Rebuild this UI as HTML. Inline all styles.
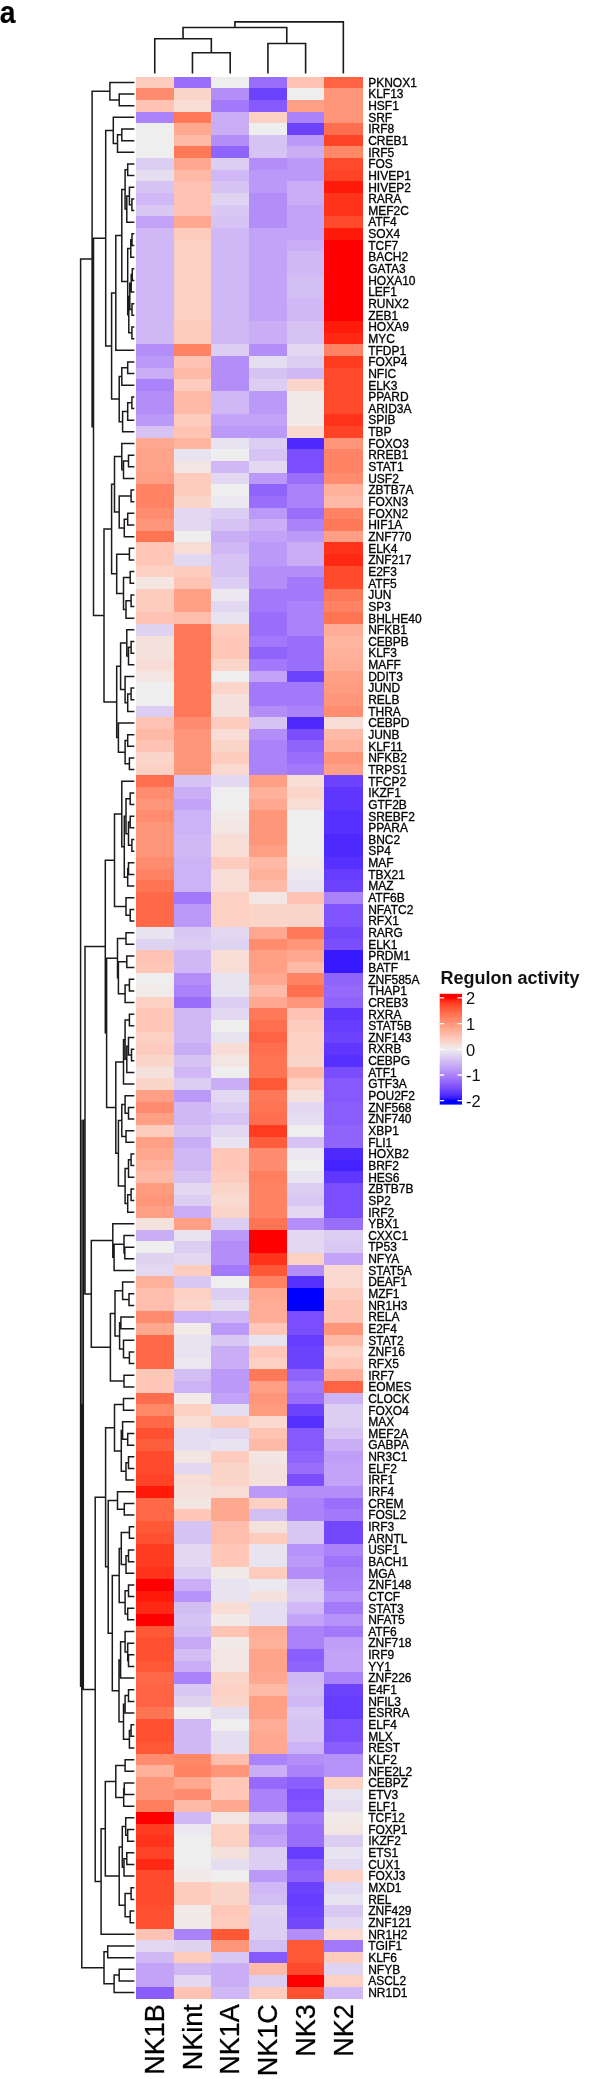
<!DOCTYPE html>
<html><head><meta charset="utf-8"><title>heatmap</title><style>html,body{margin:0;padding:0;background:#fff}body{width:591px;height:2079px;overflow:hidden;font-family:"Liberation Sans",sans-serif}</style></head><body>
<svg width="591" height="2079" viewBox="0 0 591 2079" style="display:block;filter:blur(0.45px)">
<rect width="591" height="2079" fill="#fff"/>
<g shape-rendering="crispEdges">
<rect x="135.90" y="76.60" width="38.02" height="11.95" fill="#feccbe"/>
<rect x="173.62" y="76.60" width="38.02" height="11.95" fill="#996efb"/>
<rect x="211.33" y="76.60" width="38.02" height="11.95" fill="#eeeeee"/>
<rect x="249.05" y="76.60" width="38.02" height="11.95" fill="#996efb"/>
<rect x="286.77" y="76.60" width="38.02" height="11.95" fill="#ffc3b3"/>
<rect x="324.48" y="76.60" width="38.02" height="11.95" fill="#ff6343"/>
<rect x="135.90" y="88.25" width="38.02" height="11.95" fill="#ff8c6f"/>
<rect x="173.62" y="88.25" width="38.02" height="11.95" fill="#fbd4ca"/>
<rect x="211.33" y="88.25" width="38.02" height="11.95" fill="#b38ef9"/>
<rect x="249.05" y="88.25" width="38.02" height="11.95" fill="#6d42fd"/>
<rect x="286.77" y="88.25" width="38.02" height="11.95" fill="#eeeeee"/>
<rect x="324.48" y="88.25" width="38.02" height="11.95" fill="#ff967a"/>
<rect x="135.90" y="99.89" width="38.02" height="11.95" fill="#ffc3b3"/>
<rect x="173.62" y="99.89" width="38.02" height="11.95" fill="#f7ddd6"/>
<rect x="211.33" y="99.89" width="38.02" height="11.95" fill="#a279fa"/>
<rect x="249.05" y="99.89" width="38.02" height="11.95" fill="#8559fc"/>
<rect x="286.77" y="99.89" width="38.02" height="11.95" fill="#ff9f85"/>
<rect x="324.48" y="99.89" width="38.02" height="11.95" fill="#ff967a"/>
<rect x="135.90" y="111.54" width="38.02" height="11.95" fill="#aa83fa"/>
<rect x="173.62" y="111.54" width="38.02" height="11.95" fill="#ff7959"/>
<rect x="211.33" y="111.54" width="38.02" height="11.95" fill="#c9aef6"/>
<rect x="249.05" y="111.54" width="38.02" height="11.95" fill="#fdd0c4"/>
<rect x="286.77" y="111.54" width="38.02" height="11.95" fill="#aa83fa"/>
<rect x="324.48" y="111.54" width="38.02" height="11.95" fill="#ff967a"/>
<rect x="135.90" y="123.19" width="38.02" height="11.95" fill="#eeeeee"/>
<rect x="173.62" y="123.19" width="38.02" height="11.95" fill="#ffa890"/>
<rect x="211.33" y="123.19" width="38.02" height="11.95" fill="#c9aef6"/>
<rect x="249.05" y="123.19" width="38.02" height="11.95" fill="#eeeeee"/>
<rect x="286.77" y="123.19" width="38.02" height="11.95" fill="#6d42fd"/>
<rect x="324.48" y="123.19" width="38.02" height="11.95" fill="#ff6e4e"/>
<rect x="135.90" y="134.84" width="38.02" height="11.95" fill="#eeeeee"/>
<rect x="173.62" y="134.84" width="38.02" height="11.95" fill="#ffbaa7"/>
<rect x="211.33" y="134.84" width="38.02" height="11.95" fill="#b38ef9"/>
<rect x="249.05" y="134.84" width="38.02" height="11.95" fill="#d6c3f4"/>
<rect x="286.77" y="134.84" width="38.02" height="11.95" fill="#ba99f8"/>
<rect x="324.48" y="134.84" width="38.02" height="11.95" fill="#ff4326"/>
<rect x="135.90" y="146.48" width="38.02" height="11.95" fill="#eeeeee"/>
<rect x="173.62" y="146.48" width="38.02" height="11.95" fill="#ff7959"/>
<rect x="211.33" y="146.48" width="38.02" height="11.95" fill="#8f64fc"/>
<rect x="249.05" y="146.48" width="38.02" height="11.95" fill="#d6c3f4"/>
<rect x="286.77" y="146.48" width="38.02" height="11.95" fill="#c9aef6"/>
<rect x="324.48" y="146.48" width="38.02" height="11.95" fill="#ff8869"/>
<rect x="135.90" y="158.13" width="38.02" height="11.95" fill="#dccef2"/>
<rect x="173.62" y="158.13" width="38.02" height="11.95" fill="#ffa890"/>
<rect x="211.33" y="158.13" width="38.02" height="11.95" fill="#dccef2"/>
<rect x="249.05" y="158.13" width="38.02" height="11.95" fill="#b38ef9"/>
<rect x="286.77" y="158.13" width="38.02" height="11.95" fill="#ba99f8"/>
<rect x="324.48" y="158.13" width="38.02" height="11.95" fill="#ff4b2c"/>
<rect x="135.90" y="169.78" width="38.02" height="11.95" fill="#e5def0"/>
<rect x="173.62" y="169.78" width="38.02" height="11.95" fill="#ffbaa7"/>
<rect x="211.33" y="169.78" width="38.02" height="11.95" fill="#cfb8f5"/>
<rect x="249.05" y="169.78" width="38.02" height="11.95" fill="#ba99f8"/>
<rect x="286.77" y="169.78" width="38.02" height="11.95" fill="#ba99f8"/>
<rect x="324.48" y="169.78" width="38.02" height="11.95" fill="#ff4326"/>
<rect x="135.90" y="181.43" width="38.02" height="11.95" fill="#d6c3f4"/>
<rect x="173.62" y="181.43" width="38.02" height="11.95" fill="#ffc3b3"/>
<rect x="211.33" y="181.43" width="38.02" height="11.95" fill="#d6c3f4"/>
<rect x="249.05" y="181.43" width="38.02" height="11.95" fill="#ba99f8"/>
<rect x="286.77" y="181.43" width="38.02" height="11.95" fill="#c9aef6"/>
<rect x="324.48" y="181.43" width="38.02" height="11.95" fill="#ff1a09"/>
<rect x="135.90" y="193.07" width="38.02" height="11.95" fill="#cfb8f5"/>
<rect x="173.62" y="193.07" width="38.02" height="11.95" fill="#ffc3b3"/>
<rect x="211.33" y="193.07" width="38.02" height="11.95" fill="#dfd3f2"/>
<rect x="249.05" y="193.07" width="38.02" height="11.95" fill="#b38ef9"/>
<rect x="286.77" y="193.07" width="38.02" height="11.95" fill="#c9aef6"/>
<rect x="324.48" y="193.07" width="38.02" height="11.95" fill="#ff3319"/>
<rect x="135.90" y="204.72" width="38.02" height="11.95" fill="#d9c8f3"/>
<rect x="173.62" y="204.72" width="38.02" height="11.95" fill="#ffc3b3"/>
<rect x="211.33" y="204.72" width="38.02" height="11.95" fill="#d9c8f3"/>
<rect x="249.05" y="204.72" width="38.02" height="11.95" fill="#b38ef9"/>
<rect x="286.77" y="204.72" width="38.02" height="11.95" fill="#c2a3f7"/>
<rect x="324.48" y="204.72" width="38.02" height="11.95" fill="#ff3319"/>
<rect x="135.90" y="216.37" width="38.02" height="11.95" fill="#c2a3f7"/>
<rect x="173.62" y="216.37" width="38.02" height="11.95" fill="#ffa890"/>
<rect x="211.33" y="216.37" width="38.02" height="11.95" fill="#d6c3f4"/>
<rect x="249.05" y="216.37" width="38.02" height="11.95" fill="#b38ef9"/>
<rect x="286.77" y="216.37" width="38.02" height="11.95" fill="#c2a3f7"/>
<rect x="324.48" y="216.37" width="38.02" height="11.95" fill="#ff4b2c"/>
<rect x="135.90" y="228.01" width="38.02" height="11.95" fill="#cfb8f5"/>
<rect x="173.62" y="228.01" width="38.02" height="11.95" fill="#feccbe"/>
<rect x="211.33" y="228.01" width="38.02" height="11.95" fill="#cfb8f5"/>
<rect x="249.05" y="228.01" width="38.02" height="11.95" fill="#c2a3f7"/>
<rect x="286.77" y="228.01" width="38.02" height="11.95" fill="#c2a3f7"/>
<rect x="324.48" y="228.01" width="38.02" height="11.95" fill="#ff1a09"/>
<rect x="135.90" y="239.66" width="38.02" height="11.95" fill="#cfb8f5"/>
<rect x="173.62" y="239.66" width="38.02" height="11.95" fill="#fdd0c4"/>
<rect x="211.33" y="239.66" width="38.02" height="11.95" fill="#cfb8f5"/>
<rect x="249.05" y="239.66" width="38.02" height="11.95" fill="#c2a3f7"/>
<rect x="286.77" y="239.66" width="38.02" height="11.95" fill="#c9aef6"/>
<rect x="324.48" y="239.66" width="38.02" height="11.95" fill="#ff0000"/>
<rect x="135.90" y="251.31" width="38.02" height="11.95" fill="#cfb8f5"/>
<rect x="173.62" y="251.31" width="38.02" height="11.95" fill="#fdd0c4"/>
<rect x="211.33" y="251.31" width="38.02" height="11.95" fill="#cfb8f5"/>
<rect x="249.05" y="251.31" width="38.02" height="11.95" fill="#c2a3f7"/>
<rect x="286.77" y="251.31" width="38.02" height="11.95" fill="#cfb8f5"/>
<rect x="324.48" y="251.31" width="38.02" height="11.95" fill="#ff0000"/>
<rect x="135.90" y="262.96" width="38.02" height="11.95" fill="#cfb8f5"/>
<rect x="173.62" y="262.96" width="38.02" height="11.95" fill="#fdd0c4"/>
<rect x="211.33" y="262.96" width="38.02" height="11.95" fill="#cfb8f5"/>
<rect x="249.05" y="262.96" width="38.02" height="11.95" fill="#c2a3f7"/>
<rect x="286.77" y="262.96" width="38.02" height="11.95" fill="#cfb8f5"/>
<rect x="324.48" y="262.96" width="38.02" height="11.95" fill="#ff0000"/>
<rect x="135.90" y="274.60" width="38.02" height="11.95" fill="#cfb8f5"/>
<rect x="173.62" y="274.60" width="38.02" height="11.95" fill="#fdd0c4"/>
<rect x="211.33" y="274.60" width="38.02" height="11.95" fill="#cfb8f5"/>
<rect x="249.05" y="274.60" width="38.02" height="11.95" fill="#c2a3f7"/>
<rect x="286.77" y="274.60" width="38.02" height="11.95" fill="#d3bef4"/>
<rect x="324.48" y="274.60" width="38.02" height="11.95" fill="#ff0000"/>
<rect x="135.90" y="286.25" width="38.02" height="11.95" fill="#cfb8f5"/>
<rect x="173.62" y="286.25" width="38.02" height="11.95" fill="#fdd0c4"/>
<rect x="211.33" y="286.25" width="38.02" height="11.95" fill="#cfb8f5"/>
<rect x="249.05" y="286.25" width="38.02" height="11.95" fill="#c2a3f7"/>
<rect x="286.77" y="286.25" width="38.02" height="11.95" fill="#d3bef4"/>
<rect x="324.48" y="286.25" width="38.02" height="11.95" fill="#ff0000"/>
<rect x="135.90" y="297.90" width="38.02" height="11.95" fill="#cfb8f5"/>
<rect x="173.62" y="297.90" width="38.02" height="11.95" fill="#fdd0c4"/>
<rect x="211.33" y="297.90" width="38.02" height="11.95" fill="#cfb8f5"/>
<rect x="249.05" y="297.90" width="38.02" height="11.95" fill="#c2a3f7"/>
<rect x="286.77" y="297.90" width="38.02" height="11.95" fill="#cfb8f5"/>
<rect x="324.48" y="297.90" width="38.02" height="11.95" fill="#ff0000"/>
<rect x="135.90" y="309.55" width="38.02" height="11.95" fill="#cfb8f5"/>
<rect x="173.62" y="309.55" width="38.02" height="11.95" fill="#fdd0c4"/>
<rect x="211.33" y="309.55" width="38.02" height="11.95" fill="#cfb8f5"/>
<rect x="249.05" y="309.55" width="38.02" height="11.95" fill="#c2a3f7"/>
<rect x="286.77" y="309.55" width="38.02" height="11.95" fill="#cfb8f5"/>
<rect x="324.48" y="309.55" width="38.02" height="11.95" fill="#ff0000"/>
<rect x="135.90" y="321.19" width="38.02" height="11.95" fill="#cfb8f5"/>
<rect x="173.62" y="321.19" width="38.02" height="11.95" fill="#feccbe"/>
<rect x="211.33" y="321.19" width="38.02" height="11.95" fill="#cfb8f5"/>
<rect x="249.05" y="321.19" width="38.02" height="11.95" fill="#c9aef6"/>
<rect x="286.77" y="321.19" width="38.02" height="11.95" fill="#d6c3f4"/>
<rect x="324.48" y="321.19" width="38.02" height="11.95" fill="#ff1a09"/>
<rect x="135.90" y="332.84" width="38.02" height="11.95" fill="#cfb8f5"/>
<rect x="173.62" y="332.84" width="38.02" height="11.95" fill="#feccbe"/>
<rect x="211.33" y="332.84" width="38.02" height="11.95" fill="#cfb8f5"/>
<rect x="249.05" y="332.84" width="38.02" height="11.95" fill="#c9aef6"/>
<rect x="286.77" y="332.84" width="38.02" height="11.95" fill="#d6c3f4"/>
<rect x="324.48" y="332.84" width="38.02" height="11.95" fill="#ff2812"/>
<rect x="135.90" y="344.49" width="38.02" height="11.95" fill="#b38ef9"/>
<rect x="173.62" y="344.49" width="38.02" height="11.95" fill="#ff8364"/>
<rect x="211.33" y="344.49" width="38.02" height="11.95" fill="#dccef2"/>
<rect x="249.05" y="344.49" width="38.02" height="11.95" fill="#b38ef9"/>
<rect x="286.77" y="344.49" width="38.02" height="11.95" fill="#e2d8f1"/>
<rect x="324.48" y="344.49" width="38.02" height="11.95" fill="#ff8364"/>
<rect x="135.90" y="356.13" width="38.02" height="11.95" fill="#ba99f8"/>
<rect x="173.62" y="356.13" width="38.02" height="11.95" fill="#ffc3b3"/>
<rect x="211.33" y="356.13" width="38.02" height="11.95" fill="#b38ef9"/>
<rect x="249.05" y="356.13" width="38.02" height="11.95" fill="#e5def0"/>
<rect x="286.77" y="356.13" width="38.02" height="11.95" fill="#dccef2"/>
<rect x="324.48" y="356.13" width="38.02" height="11.95" fill="#ff3c20"/>
<rect x="135.90" y="367.78" width="38.02" height="11.95" fill="#c9aef6"/>
<rect x="173.62" y="367.78" width="38.02" height="11.95" fill="#ffbaa7"/>
<rect x="211.33" y="367.78" width="38.02" height="11.95" fill="#b38ef9"/>
<rect x="249.05" y="367.78" width="38.02" height="11.95" fill="#d6c3f4"/>
<rect x="286.77" y="367.78" width="38.02" height="11.95" fill="#cfb8f5"/>
<rect x="324.48" y="367.78" width="38.02" height="11.95" fill="#ff4b2c"/>
<rect x="135.90" y="379.43" width="38.02" height="11.95" fill="#aa83fa"/>
<rect x="173.62" y="379.43" width="38.02" height="11.95" fill="#feccbe"/>
<rect x="211.33" y="379.43" width="38.02" height="11.95" fill="#b38ef9"/>
<rect x="249.05" y="379.43" width="38.02" height="11.95" fill="#dccef2"/>
<rect x="286.77" y="379.43" width="38.02" height="11.95" fill="#fbd4ca"/>
<rect x="324.48" y="379.43" width="38.02" height="11.95" fill="#ff4b2c"/>
<rect x="135.90" y="391.08" width="38.02" height="11.95" fill="#b38ef9"/>
<rect x="173.62" y="391.08" width="38.02" height="11.95" fill="#ffbaa7"/>
<rect x="211.33" y="391.08" width="38.02" height="11.95" fill="#cfb8f5"/>
<rect x="249.05" y="391.08" width="38.02" height="11.95" fill="#ba99f8"/>
<rect x="286.77" y="391.08" width="38.02" height="11.95" fill="#f1eae8"/>
<rect x="324.48" y="391.08" width="38.02" height="11.95" fill="#ff4b2c"/>
<rect x="135.90" y="402.72" width="38.02" height="11.95" fill="#b38ef9"/>
<rect x="173.62" y="402.72" width="38.02" height="11.95" fill="#ffbaa7"/>
<rect x="211.33" y="402.72" width="38.02" height="11.95" fill="#cfb8f5"/>
<rect x="249.05" y="402.72" width="38.02" height="11.95" fill="#ba99f8"/>
<rect x="286.77" y="402.72" width="38.02" height="11.95" fill="#f1eae8"/>
<rect x="324.48" y="402.72" width="38.02" height="11.95" fill="#ff4b2c"/>
<rect x="135.90" y="414.37" width="38.02" height="11.95" fill="#ba99f8"/>
<rect x="173.62" y="414.37" width="38.02" height="11.95" fill="#feccbe"/>
<rect x="211.33" y="414.37" width="38.02" height="11.95" fill="#c2a3f7"/>
<rect x="249.05" y="414.37" width="38.02" height="11.95" fill="#c2a3f7"/>
<rect x="286.77" y="414.37" width="38.02" height="11.95" fill="#f1eae8"/>
<rect x="324.48" y="414.37" width="38.02" height="11.95" fill="#ff3319"/>
<rect x="135.90" y="426.02" width="38.02" height="11.95" fill="#d6c3f4"/>
<rect x="173.62" y="426.02" width="38.02" height="11.95" fill="#ffc3b3"/>
<rect x="211.33" y="426.02" width="38.02" height="11.95" fill="#ba99f8"/>
<rect x="249.05" y="426.02" width="38.02" height="11.95" fill="#ba99f8"/>
<rect x="286.77" y="426.02" width="38.02" height="11.95" fill="#f9d9d0"/>
<rect x="324.48" y="426.02" width="38.02" height="11.95" fill="#ff4326"/>
<rect x="135.90" y="437.67" width="38.02" height="11.95" fill="#ffa890"/>
<rect x="173.62" y="437.67" width="38.02" height="11.95" fill="#ffb6a1"/>
<rect x="211.33" y="437.67" width="38.02" height="11.95" fill="#e8e3f0"/>
<rect x="249.05" y="437.67" width="38.02" height="11.95" fill="#dccef2"/>
<rect x="286.77" y="437.67" width="38.02" height="11.95" fill="#4d29fe"/>
<rect x="324.48" y="437.67" width="38.02" height="11.95" fill="#ff967a"/>
<rect x="135.90" y="449.31" width="38.02" height="11.95" fill="#ffa48b"/>
<rect x="173.62" y="449.31" width="38.02" height="11.95" fill="#e8e3f0"/>
<rect x="211.33" y="449.31" width="38.02" height="11.95" fill="#eeeeee"/>
<rect x="249.05" y="449.31" width="38.02" height="11.95" fill="#d6c3f4"/>
<rect x="286.77" y="449.31" width="38.02" height="11.95" fill="#7a4efd"/>
<rect x="324.48" y="449.31" width="38.02" height="11.95" fill="#ff8364"/>
<rect x="135.90" y="460.96" width="38.02" height="11.95" fill="#ffa48b"/>
<rect x="173.62" y="460.96" width="38.02" height="11.95" fill="#f3e5e2"/>
<rect x="211.33" y="460.96" width="38.02" height="11.95" fill="#cfb8f5"/>
<rect x="249.05" y="460.96" width="38.02" height="11.95" fill="#e2d8f1"/>
<rect x="286.77" y="460.96" width="38.02" height="11.95" fill="#7a4efd"/>
<rect x="324.48" y="460.96" width="38.02" height="11.95" fill="#ff8364"/>
<rect x="135.90" y="472.61" width="38.02" height="11.95" fill="#ff9f85"/>
<rect x="173.62" y="472.61" width="38.02" height="11.95" fill="#feccbe"/>
<rect x="211.33" y="472.61" width="38.02" height="11.95" fill="#e2d8f1"/>
<rect x="249.05" y="472.61" width="38.02" height="11.95" fill="#ba99f8"/>
<rect x="286.77" y="472.61" width="38.02" height="11.95" fill="#996efb"/>
<rect x="324.48" y="472.61" width="38.02" height="11.95" fill="#ff8c6f"/>
<rect x="135.90" y="484.25" width="38.02" height="11.95" fill="#ff8364"/>
<rect x="173.62" y="484.25" width="38.02" height="11.95" fill="#feccbe"/>
<rect x="211.33" y="484.25" width="38.02" height="11.95" fill="#eeeeee"/>
<rect x="249.05" y="484.25" width="38.02" height="11.95" fill="#8f64fc"/>
<rect x="286.77" y="484.25" width="38.02" height="11.95" fill="#aa83fa"/>
<rect x="324.48" y="484.25" width="38.02" height="11.95" fill="#ffb19c"/>
<rect x="135.90" y="495.90" width="38.02" height="11.95" fill="#ff8364"/>
<rect x="173.62" y="495.90" width="38.02" height="11.95" fill="#fbd4ca"/>
<rect x="211.33" y="495.90" width="38.02" height="11.95" fill="#ebe9ef"/>
<rect x="249.05" y="495.90" width="38.02" height="11.95" fill="#996efb"/>
<rect x="286.77" y="495.90" width="38.02" height="11.95" fill="#aa83fa"/>
<rect x="324.48" y="495.90" width="38.02" height="11.95" fill="#ffbaa7"/>
<rect x="135.90" y="507.55" width="38.02" height="11.95" fill="#ff8c6f"/>
<rect x="173.62" y="507.55" width="38.02" height="11.95" fill="#e2d8f1"/>
<rect x="211.33" y="507.55" width="38.02" height="11.95" fill="#dccef2"/>
<rect x="249.05" y="507.55" width="38.02" height="11.95" fill="#ba99f8"/>
<rect x="286.77" y="507.55" width="38.02" height="11.95" fill="#996efb"/>
<rect x="324.48" y="507.55" width="38.02" height="11.95" fill="#ff8364"/>
<rect x="135.90" y="519.20" width="38.02" height="11.95" fill="#ff967a"/>
<rect x="173.62" y="519.20" width="38.02" height="11.95" fill="#e2d8f1"/>
<rect x="211.33" y="519.20" width="38.02" height="11.95" fill="#d6c3f4"/>
<rect x="249.05" y="519.20" width="38.02" height="11.95" fill="#c9aef6"/>
<rect x="286.77" y="519.20" width="38.02" height="11.95" fill="#aa83fa"/>
<rect x="324.48" y="519.20" width="38.02" height="11.95" fill="#ff7959"/>
<rect x="135.90" y="530.84" width="38.02" height="11.95" fill="#ff7453"/>
<rect x="173.62" y="530.84" width="38.02" height="11.95" fill="#eeeeee"/>
<rect x="211.33" y="530.84" width="38.02" height="11.95" fill="#c9aef6"/>
<rect x="249.05" y="530.84" width="38.02" height="11.95" fill="#c2a3f7"/>
<rect x="286.77" y="530.84" width="38.02" height="11.95" fill="#ba99f8"/>
<rect x="324.48" y="530.84" width="38.02" height="11.95" fill="#ff9f85"/>
<rect x="135.90" y="542.49" width="38.02" height="11.95" fill="#ffc7b8"/>
<rect x="173.62" y="542.49" width="38.02" height="11.95" fill="#f7ddd6"/>
<rect x="211.33" y="542.49" width="38.02" height="11.95" fill="#cfb8f5"/>
<rect x="249.05" y="542.49" width="38.02" height="11.95" fill="#ba99f8"/>
<rect x="286.77" y="542.49" width="38.02" height="11.95" fill="#c9aef6"/>
<rect x="324.48" y="542.49" width="38.02" height="11.95" fill="#ff3319"/>
<rect x="135.90" y="554.14" width="38.02" height="11.95" fill="#ffc7b8"/>
<rect x="173.62" y="554.14" width="38.02" height="11.95" fill="#e2d8f1"/>
<rect x="211.33" y="554.14" width="38.02" height="11.95" fill="#d6c3f4"/>
<rect x="249.05" y="554.14" width="38.02" height="11.95" fill="#ba99f8"/>
<rect x="286.77" y="554.14" width="38.02" height="11.95" fill="#c9aef6"/>
<rect x="324.48" y="554.14" width="38.02" height="11.95" fill="#ff2812"/>
<rect x="135.90" y="565.79" width="38.02" height="11.95" fill="#fdd0c4"/>
<rect x="173.62" y="565.79" width="38.02" height="11.95" fill="#feccbe"/>
<rect x="211.33" y="565.79" width="38.02" height="11.95" fill="#d6c3f4"/>
<rect x="249.05" y="565.79" width="38.02" height="11.95" fill="#b38ef9"/>
<rect x="286.77" y="565.79" width="38.02" height="11.95" fill="#b38ef9"/>
<rect x="324.48" y="565.79" width="38.02" height="11.95" fill="#ff4b2c"/>
<rect x="135.90" y="577.43" width="38.02" height="11.95" fill="#f3e5e2"/>
<rect x="173.62" y="577.43" width="38.02" height="11.95" fill="#ffc3b3"/>
<rect x="211.33" y="577.43" width="38.02" height="11.95" fill="#dccef2"/>
<rect x="249.05" y="577.43" width="38.02" height="11.95" fill="#b38ef9"/>
<rect x="286.77" y="577.43" width="38.02" height="11.95" fill="#a279fa"/>
<rect x="324.48" y="577.43" width="38.02" height="11.95" fill="#ff4b2c"/>
<rect x="135.90" y="589.08" width="38.02" height="11.95" fill="#feccbe"/>
<rect x="173.62" y="589.08" width="38.02" height="11.95" fill="#ff9f85"/>
<rect x="211.33" y="589.08" width="38.02" height="11.95" fill="#ebe9ef"/>
<rect x="249.05" y="589.08" width="38.02" height="11.95" fill="#a279fa"/>
<rect x="286.77" y="589.08" width="38.02" height="11.95" fill="#a279fa"/>
<rect x="324.48" y="589.08" width="38.02" height="11.95" fill="#ff7959"/>
<rect x="135.90" y="600.73" width="38.02" height="11.95" fill="#feccbe"/>
<rect x="173.62" y="600.73" width="38.02" height="11.95" fill="#ff9f85"/>
<rect x="211.33" y="600.73" width="38.02" height="11.95" fill="#e2d8f1"/>
<rect x="249.05" y="600.73" width="38.02" height="11.95" fill="#a279fa"/>
<rect x="286.77" y="600.73" width="38.02" height="11.95" fill="#aa83fa"/>
<rect x="324.48" y="600.73" width="38.02" height="11.95" fill="#ff8364"/>
<rect x="135.90" y="612.37" width="38.02" height="11.95" fill="#ffc3b3"/>
<rect x="173.62" y="612.37" width="38.02" height="11.95" fill="#ffbead"/>
<rect x="211.33" y="612.37" width="38.02" height="11.95" fill="#e8e3f0"/>
<rect x="249.05" y="612.37" width="38.02" height="11.95" fill="#996efb"/>
<rect x="286.77" y="612.37" width="38.02" height="11.95" fill="#aa83fa"/>
<rect x="324.48" y="612.37" width="38.02" height="11.95" fill="#ff7453"/>
<rect x="135.90" y="624.02" width="38.02" height="11.95" fill="#dfd3f2"/>
<rect x="173.62" y="624.02" width="38.02" height="11.95" fill="#ff7959"/>
<rect x="211.33" y="624.02" width="38.02" height="11.95" fill="#feccbe"/>
<rect x="249.05" y="624.02" width="38.02" height="11.95" fill="#996efb"/>
<rect x="286.77" y="624.02" width="38.02" height="11.95" fill="#aa83fa"/>
<rect x="324.48" y="624.02" width="38.02" height="11.95" fill="#ffad96"/>
<rect x="135.90" y="635.67" width="38.02" height="11.95" fill="#f5e1dc"/>
<rect x="173.62" y="635.67" width="38.02" height="11.95" fill="#ff7959"/>
<rect x="211.33" y="635.67" width="38.02" height="11.95" fill="#ffc7b8"/>
<rect x="249.05" y="635.67" width="38.02" height="11.95" fill="#a279fa"/>
<rect x="286.77" y="635.67" width="38.02" height="11.95" fill="#996efb"/>
<rect x="324.48" y="635.67" width="38.02" height="11.95" fill="#ffb6a1"/>
<rect x="135.90" y="647.32" width="38.02" height="11.95" fill="#f5e1dc"/>
<rect x="173.62" y="647.32" width="38.02" height="11.95" fill="#ff7959"/>
<rect x="211.33" y="647.32" width="38.02" height="11.95" fill="#ffc7b8"/>
<rect x="249.05" y="647.32" width="38.02" height="11.95" fill="#8f64fc"/>
<rect x="286.77" y="647.32" width="38.02" height="11.95" fill="#996efb"/>
<rect x="324.48" y="647.32" width="38.02" height="11.95" fill="#ffb19c"/>
<rect x="135.90" y="658.96" width="38.02" height="11.95" fill="#f7ddd6"/>
<rect x="173.62" y="658.96" width="38.02" height="11.95" fill="#ff7959"/>
<rect x="211.33" y="658.96" width="38.02" height="11.95" fill="#fbd4ca"/>
<rect x="249.05" y="658.96" width="38.02" height="11.95" fill="#a279fa"/>
<rect x="286.77" y="658.96" width="38.02" height="11.95" fill="#996efb"/>
<rect x="324.48" y="658.96" width="38.02" height="11.95" fill="#ffad96"/>
<rect x="135.90" y="670.61" width="38.02" height="11.95" fill="#f3e5e2"/>
<rect x="173.62" y="670.61" width="38.02" height="11.95" fill="#ff7959"/>
<rect x="211.33" y="670.61" width="38.02" height="11.95" fill="#eeeeee"/>
<rect x="249.05" y="670.61" width="38.02" height="11.95" fill="#c2a3f7"/>
<rect x="286.77" y="670.61" width="38.02" height="11.95" fill="#6d42fd"/>
<rect x="324.48" y="670.61" width="38.02" height="11.95" fill="#ff9f85"/>
<rect x="135.90" y="682.26" width="38.02" height="11.95" fill="#eeeeee"/>
<rect x="173.62" y="682.26" width="38.02" height="11.95" fill="#ff7959"/>
<rect x="211.33" y="682.26" width="38.02" height="11.95" fill="#fbd4ca"/>
<rect x="249.05" y="682.26" width="38.02" height="11.95" fill="#a279fa"/>
<rect x="286.77" y="682.26" width="38.02" height="11.95" fill="#a279fa"/>
<rect x="324.48" y="682.26" width="38.02" height="11.95" fill="#ff9b7f"/>
<rect x="135.90" y="693.91" width="38.02" height="11.95" fill="#eeeeee"/>
<rect x="173.62" y="693.91" width="38.02" height="11.95" fill="#ff7959"/>
<rect x="211.33" y="693.91" width="38.02" height="11.95" fill="#f5e1dc"/>
<rect x="249.05" y="693.91" width="38.02" height="11.95" fill="#a279fa"/>
<rect x="286.77" y="693.91" width="38.02" height="11.95" fill="#a279fa"/>
<rect x="324.48" y="693.91" width="38.02" height="11.95" fill="#ff967a"/>
<rect x="135.90" y="705.55" width="38.02" height="11.95" fill="#dccef2"/>
<rect x="173.62" y="705.55" width="38.02" height="11.95" fill="#ff7959"/>
<rect x="211.33" y="705.55" width="38.02" height="11.95" fill="#f5e1dc"/>
<rect x="249.05" y="705.55" width="38.02" height="11.95" fill="#b38ef9"/>
<rect x="286.77" y="705.55" width="38.02" height="11.95" fill="#aa83fa"/>
<rect x="324.48" y="705.55" width="38.02" height="11.95" fill="#ff8c6f"/>
<rect x="135.90" y="717.20" width="38.02" height="11.95" fill="#ffc3b3"/>
<rect x="173.62" y="717.20" width="38.02" height="11.95" fill="#ff8c6f"/>
<rect x="211.33" y="717.20" width="38.02" height="11.95" fill="#feccbe"/>
<rect x="249.05" y="717.20" width="38.02" height="11.95" fill="#d6c3f4"/>
<rect x="286.77" y="717.20" width="38.02" height="11.95" fill="#4d29fe"/>
<rect x="324.48" y="717.20" width="38.02" height="11.95" fill="#f7ddd6"/>
<rect x="135.90" y="728.85" width="38.02" height="11.95" fill="#ffbaa7"/>
<rect x="173.62" y="728.85" width="38.02" height="11.95" fill="#ff967a"/>
<rect x="211.33" y="728.85" width="38.02" height="11.95" fill="#f7ddd6"/>
<rect x="249.05" y="728.85" width="38.02" height="11.95" fill="#b38ef9"/>
<rect x="286.77" y="728.85" width="38.02" height="11.95" fill="#7a4efd"/>
<rect x="324.48" y="728.85" width="38.02" height="11.95" fill="#ffbaa7"/>
<rect x="135.90" y="740.49" width="38.02" height="11.95" fill="#ffc3b3"/>
<rect x="173.62" y="740.49" width="38.02" height="11.95" fill="#ff967a"/>
<rect x="211.33" y="740.49" width="38.02" height="11.95" fill="#fbd4ca"/>
<rect x="249.05" y="740.49" width="38.02" height="11.95" fill="#aa83fa"/>
<rect x="286.77" y="740.49" width="38.02" height="11.95" fill="#8f64fc"/>
<rect x="324.48" y="740.49" width="38.02" height="11.95" fill="#ffb19c"/>
<rect x="135.90" y="752.14" width="38.02" height="11.95" fill="#fbd4ca"/>
<rect x="173.62" y="752.14" width="38.02" height="11.95" fill="#ff967a"/>
<rect x="211.33" y="752.14" width="38.02" height="11.95" fill="#feccbe"/>
<rect x="249.05" y="752.14" width="38.02" height="11.95" fill="#aa83fa"/>
<rect x="286.77" y="752.14" width="38.02" height="11.95" fill="#996efb"/>
<rect x="324.48" y="752.14" width="38.02" height="11.95" fill="#ff967a"/>
<rect x="135.90" y="763.79" width="38.02" height="11.95" fill="#fdd0c4"/>
<rect x="173.62" y="763.79" width="38.02" height="11.95" fill="#ff967a"/>
<rect x="211.33" y="763.79" width="38.02" height="11.95" fill="#f9d9d0"/>
<rect x="249.05" y="763.79" width="38.02" height="11.95" fill="#aa83fa"/>
<rect x="286.77" y="763.79" width="38.02" height="11.95" fill="#a279fa"/>
<rect x="324.48" y="763.79" width="38.02" height="11.95" fill="#ff9f85"/>
<rect x="135.90" y="775.44" width="38.02" height="11.95" fill="#ff6e4e"/>
<rect x="173.62" y="775.44" width="38.02" height="11.95" fill="#d6c3f4"/>
<rect x="211.33" y="775.44" width="38.02" height="11.95" fill="#e2d8f1"/>
<rect x="249.05" y="775.44" width="38.02" height="11.95" fill="#ff9f85"/>
<rect x="286.77" y="775.44" width="38.02" height="11.95" fill="#f7ddd6"/>
<rect x="324.48" y="775.44" width="38.02" height="11.95" fill="#6d42fd"/>
<rect x="135.90" y="787.08" width="38.02" height="11.95" fill="#ff8c6f"/>
<rect x="173.62" y="787.08" width="38.02" height="11.95" fill="#c9aef6"/>
<rect x="211.33" y="787.08" width="38.02" height="11.95" fill="#eeeeee"/>
<rect x="249.05" y="787.08" width="38.02" height="11.95" fill="#ffb19c"/>
<rect x="286.77" y="787.08" width="38.02" height="11.95" fill="#fbd4ca"/>
<rect x="324.48" y="787.08" width="38.02" height="11.95" fill="#5f36fe"/>
<rect x="135.90" y="798.73" width="38.02" height="11.95" fill="#ff967a"/>
<rect x="173.62" y="798.73" width="38.02" height="11.95" fill="#c2a3f7"/>
<rect x="211.33" y="798.73" width="38.02" height="11.95" fill="#eeeeee"/>
<rect x="249.05" y="798.73" width="38.02" height="11.95" fill="#ffa890"/>
<rect x="286.77" y="798.73" width="38.02" height="11.95" fill="#f7ddd6"/>
<rect x="324.48" y="798.73" width="38.02" height="11.95" fill="#5f36fe"/>
<rect x="135.90" y="810.38" width="38.02" height="11.95" fill="#ff8c6f"/>
<rect x="173.62" y="810.38" width="38.02" height="11.95" fill="#ccb3f5"/>
<rect x="211.33" y="810.38" width="38.02" height="11.95" fill="#f1eae8"/>
<rect x="249.05" y="810.38" width="38.02" height="11.95" fill="#ff967a"/>
<rect x="286.77" y="810.38" width="38.02" height="11.95" fill="#eeeeee"/>
<rect x="324.48" y="810.38" width="38.02" height="11.95" fill="#5630fe"/>
<rect x="135.90" y="822.03" width="38.02" height="11.95" fill="#ff967a"/>
<rect x="173.62" y="822.03" width="38.02" height="11.95" fill="#ccb3f5"/>
<rect x="211.33" y="822.03" width="38.02" height="11.95" fill="#f3e5e2"/>
<rect x="249.05" y="822.03" width="38.02" height="11.95" fill="#ff967a"/>
<rect x="286.77" y="822.03" width="38.02" height="11.95" fill="#eeeeee"/>
<rect x="324.48" y="822.03" width="38.02" height="11.95" fill="#5630fe"/>
<rect x="135.90" y="833.67" width="38.02" height="11.95" fill="#ff967a"/>
<rect x="173.62" y="833.67" width="38.02" height="11.95" fill="#cfb8f5"/>
<rect x="211.33" y="833.67" width="38.02" height="11.95" fill="#f7ddd6"/>
<rect x="249.05" y="833.67" width="38.02" height="11.95" fill="#ff967a"/>
<rect x="286.77" y="833.67" width="38.02" height="11.95" fill="#eeeeee"/>
<rect x="324.48" y="833.67" width="38.02" height="11.95" fill="#4d29fe"/>
<rect x="135.90" y="845.32" width="38.02" height="11.95" fill="#ff967a"/>
<rect x="173.62" y="845.32" width="38.02" height="11.95" fill="#cfb8f5"/>
<rect x="211.33" y="845.32" width="38.02" height="11.95" fill="#f7ddd6"/>
<rect x="249.05" y="845.32" width="38.02" height="11.95" fill="#ff9f85"/>
<rect x="286.77" y="845.32" width="38.02" height="11.95" fill="#eeeeee"/>
<rect x="324.48" y="845.32" width="38.02" height="11.95" fill="#4d29fe"/>
<rect x="135.90" y="856.97" width="38.02" height="11.95" fill="#ff8c6f"/>
<rect x="173.62" y="856.97" width="38.02" height="11.95" fill="#ccb3f5"/>
<rect x="211.33" y="856.97" width="38.02" height="11.95" fill="#feccbe"/>
<rect x="249.05" y="856.97" width="38.02" height="11.95" fill="#ffbaa7"/>
<rect x="286.77" y="856.97" width="38.02" height="11.95" fill="#f1eae8"/>
<rect x="324.48" y="856.97" width="38.02" height="11.95" fill="#5630fe"/>
<rect x="135.90" y="868.61" width="38.02" height="11.95" fill="#ff8364"/>
<rect x="173.62" y="868.61" width="38.02" height="11.95" fill="#ccb3f5"/>
<rect x="211.33" y="868.61" width="38.02" height="11.95" fill="#f7ddd6"/>
<rect x="249.05" y="868.61" width="38.02" height="11.95" fill="#ffb19c"/>
<rect x="286.77" y="868.61" width="38.02" height="11.95" fill="#ebe9ef"/>
<rect x="324.48" y="868.61" width="38.02" height="11.95" fill="#663cfe"/>
<rect x="135.90" y="880.26" width="38.02" height="11.95" fill="#ff7453"/>
<rect x="173.62" y="880.26" width="38.02" height="11.95" fill="#ccb3f5"/>
<rect x="211.33" y="880.26" width="38.02" height="11.95" fill="#f7ddd6"/>
<rect x="249.05" y="880.26" width="38.02" height="11.95" fill="#ffbaa7"/>
<rect x="286.77" y="880.26" width="38.02" height="11.95" fill="#e8e3f0"/>
<rect x="324.48" y="880.26" width="38.02" height="11.95" fill="#6d42fd"/>
<rect x="135.90" y="891.91" width="38.02" height="11.95" fill="#ff6948"/>
<rect x="173.62" y="891.91" width="38.02" height="11.95" fill="#a279fa"/>
<rect x="211.33" y="891.91" width="38.02" height="11.95" fill="#fdd0c4"/>
<rect x="249.05" y="891.91" width="38.02" height="11.95" fill="#f3e5e2"/>
<rect x="286.77" y="891.91" width="38.02" height="11.95" fill="#ffc3b3"/>
<rect x="324.48" y="891.91" width="38.02" height="11.95" fill="#aa83fa"/>
<rect x="135.90" y="903.56" width="38.02" height="11.95" fill="#ff6948"/>
<rect x="173.62" y="903.56" width="38.02" height="11.95" fill="#ba99f8"/>
<rect x="211.33" y="903.56" width="38.02" height="11.95" fill="#fdd0c4"/>
<rect x="249.05" y="903.56" width="38.02" height="11.95" fill="#fbd4ca"/>
<rect x="286.77" y="903.56" width="38.02" height="11.95" fill="#fbd4ca"/>
<rect x="324.48" y="903.56" width="38.02" height="11.95" fill="#7f53fd"/>
<rect x="135.90" y="915.20" width="38.02" height="11.95" fill="#ff6948"/>
<rect x="173.62" y="915.20" width="38.02" height="11.95" fill="#ba99f8"/>
<rect x="211.33" y="915.20" width="38.02" height="11.95" fill="#fdd0c4"/>
<rect x="249.05" y="915.20" width="38.02" height="11.95" fill="#fbd4ca"/>
<rect x="286.77" y="915.20" width="38.02" height="11.95" fill="#fbd4ca"/>
<rect x="324.48" y="915.20" width="38.02" height="11.95" fill="#7f53fd"/>
<rect x="135.90" y="926.85" width="38.02" height="11.95" fill="#e8e3f0"/>
<rect x="173.62" y="926.85" width="38.02" height="11.95" fill="#d9c8f3"/>
<rect x="211.33" y="926.85" width="38.02" height="11.95" fill="#e2d8f1"/>
<rect x="249.05" y="926.85" width="38.02" height="11.95" fill="#ffa890"/>
<rect x="286.77" y="926.85" width="38.02" height="11.95" fill="#ff7959"/>
<rect x="324.48" y="926.85" width="38.02" height="11.95" fill="#7348fd"/>
<rect x="135.90" y="938.50" width="38.02" height="11.95" fill="#dfd3f2"/>
<rect x="173.62" y="938.50" width="38.02" height="11.95" fill="#dccef2"/>
<rect x="211.33" y="938.50" width="38.02" height="11.95" fill="#dfd3f2"/>
<rect x="249.05" y="938.50" width="38.02" height="11.95" fill="#ff8c6f"/>
<rect x="286.77" y="938.50" width="38.02" height="11.95" fill="#ff967a"/>
<rect x="324.48" y="938.50" width="38.02" height="11.95" fill="#7a4efd"/>
<rect x="135.90" y="950.15" width="38.02" height="11.95" fill="#ffc3b3"/>
<rect x="173.62" y="950.15" width="38.02" height="11.95" fill="#cfb8f5"/>
<rect x="211.33" y="950.15" width="38.02" height="11.95" fill="#f7ddd6"/>
<rect x="249.05" y="950.15" width="38.02" height="11.95" fill="#ff9f85"/>
<rect x="286.77" y="950.15" width="38.02" height="11.95" fill="#ffa890"/>
<rect x="324.48" y="950.15" width="38.02" height="11.95" fill="#3619ff"/>
<rect x="135.90" y="961.79" width="38.02" height="11.95" fill="#ffc7b8"/>
<rect x="173.62" y="961.79" width="38.02" height="11.95" fill="#cfb8f5"/>
<rect x="211.33" y="961.79" width="38.02" height="11.95" fill="#f7ddd6"/>
<rect x="249.05" y="961.79" width="38.02" height="11.95" fill="#ff9f85"/>
<rect x="286.77" y="961.79" width="38.02" height="11.95" fill="#ffbaa7"/>
<rect x="324.48" y="961.79" width="38.02" height="11.95" fill="#3619ff"/>
<rect x="135.90" y="973.44" width="38.02" height="11.95" fill="#eeeeee"/>
<rect x="173.62" y="973.44" width="38.02" height="11.95" fill="#b38ef9"/>
<rect x="211.33" y="973.44" width="38.02" height="11.95" fill="#e8e3f0"/>
<rect x="249.05" y="973.44" width="38.02" height="11.95" fill="#ffa890"/>
<rect x="286.77" y="973.44" width="38.02" height="11.95" fill="#ff8364"/>
<rect x="324.48" y="973.44" width="38.02" height="11.95" fill="#8f64fc"/>
<rect x="135.90" y="985.09" width="38.02" height="11.95" fill="#f1eae8"/>
<rect x="173.62" y="985.09" width="38.02" height="11.95" fill="#aa83fa"/>
<rect x="211.33" y="985.09" width="38.02" height="11.95" fill="#e8e3f0"/>
<rect x="249.05" y="985.09" width="38.02" height="11.95" fill="#ffbaa7"/>
<rect x="286.77" y="985.09" width="38.02" height="11.95" fill="#ff6e4e"/>
<rect x="324.48" y="985.09" width="38.02" height="11.95" fill="#9469fb"/>
<rect x="135.90" y="996.73" width="38.02" height="11.95" fill="#fdd0c4"/>
<rect x="173.62" y="996.73" width="38.02" height="11.95" fill="#996efb"/>
<rect x="211.33" y="996.73" width="38.02" height="11.95" fill="#dccef2"/>
<rect x="249.05" y="996.73" width="38.02" height="11.95" fill="#ffa890"/>
<rect x="286.77" y="996.73" width="38.02" height="11.95" fill="#ff967a"/>
<rect x="324.48" y="996.73" width="38.02" height="11.95" fill="#8f64fc"/>
<rect x="135.90" y="1008.38" width="38.02" height="11.95" fill="#ffc7b8"/>
<rect x="173.62" y="1008.38" width="38.02" height="11.95" fill="#cfb8f5"/>
<rect x="211.33" y="1008.38" width="38.02" height="11.95" fill="#e2d8f1"/>
<rect x="249.05" y="1008.38" width="38.02" height="11.95" fill="#ff7959"/>
<rect x="286.77" y="1008.38" width="38.02" height="11.95" fill="#ffc3b3"/>
<rect x="324.48" y="1008.38" width="38.02" height="11.95" fill="#5f36fe"/>
<rect x="135.90" y="1020.03" width="38.02" height="11.95" fill="#ffc7b8"/>
<rect x="173.62" y="1020.03" width="38.02" height="11.95" fill="#cfb8f5"/>
<rect x="211.33" y="1020.03" width="38.02" height="11.95" fill="#eeeeee"/>
<rect x="249.05" y="1020.03" width="38.02" height="11.95" fill="#ff6e4e"/>
<rect x="286.77" y="1020.03" width="38.02" height="11.95" fill="#feccbe"/>
<rect x="324.48" y="1020.03" width="38.02" height="11.95" fill="#663cfe"/>
<rect x="135.90" y="1031.68" width="38.02" height="11.95" fill="#fdd0c4"/>
<rect x="173.62" y="1031.68" width="38.02" height="11.95" fill="#cfb8f5"/>
<rect x="211.33" y="1031.68" width="38.02" height="11.95" fill="#e8e3f0"/>
<rect x="249.05" y="1031.68" width="38.02" height="11.95" fill="#ff6343"/>
<rect x="286.77" y="1031.68" width="38.02" height="11.95" fill="#fdd0c4"/>
<rect x="324.48" y="1031.68" width="38.02" height="11.95" fill="#6d42fd"/>
<rect x="135.90" y="1043.32" width="38.02" height="11.95" fill="#feccbe"/>
<rect x="173.62" y="1043.32" width="38.02" height="11.95" fill="#c9aef6"/>
<rect x="211.33" y="1043.32" width="38.02" height="11.95" fill="#f7ddd6"/>
<rect x="249.05" y="1043.32" width="38.02" height="11.95" fill="#ff6e4e"/>
<rect x="286.77" y="1043.32" width="38.02" height="11.95" fill="#fdd0c4"/>
<rect x="324.48" y="1043.32" width="38.02" height="11.95" fill="#5f36fe"/>
<rect x="135.90" y="1054.97" width="38.02" height="11.95" fill="#fbd4ca"/>
<rect x="173.62" y="1054.97" width="38.02" height="11.95" fill="#d6c3f4"/>
<rect x="211.33" y="1054.97" width="38.02" height="11.95" fill="#f3e5e2"/>
<rect x="249.05" y="1054.97" width="38.02" height="11.95" fill="#ff7453"/>
<rect x="286.77" y="1054.97" width="38.02" height="11.95" fill="#fbd4ca"/>
<rect x="324.48" y="1054.97" width="38.02" height="11.95" fill="#5630fe"/>
<rect x="135.90" y="1066.62" width="38.02" height="11.95" fill="#f5e1dc"/>
<rect x="173.62" y="1066.62" width="38.02" height="11.95" fill="#cfb8f5"/>
<rect x="211.33" y="1066.62" width="38.02" height="11.95" fill="#eeeeee"/>
<rect x="249.05" y="1066.62" width="38.02" height="11.95" fill="#ff7453"/>
<rect x="286.77" y="1066.62" width="38.02" height="11.95" fill="#ffbaa7"/>
<rect x="324.48" y="1066.62" width="38.02" height="11.95" fill="#7a4efd"/>
<rect x="135.90" y="1078.27" width="38.02" height="11.95" fill="#fbd4ca"/>
<rect x="173.62" y="1078.27" width="38.02" height="11.95" fill="#dccef2"/>
<rect x="211.33" y="1078.27" width="38.02" height="11.95" fill="#c9aef6"/>
<rect x="249.05" y="1078.27" width="38.02" height="11.95" fill="#ff5837"/>
<rect x="286.77" y="1078.27" width="38.02" height="11.95" fill="#fdd0c4"/>
<rect x="324.48" y="1078.27" width="38.02" height="11.95" fill="#8559fc"/>
<rect x="135.90" y="1089.91" width="38.02" height="11.95" fill="#ff9f85"/>
<rect x="173.62" y="1089.91" width="38.02" height="11.95" fill="#ba99f8"/>
<rect x="211.33" y="1089.91" width="38.02" height="11.95" fill="#e2d8f1"/>
<rect x="249.05" y="1089.91" width="38.02" height="11.95" fill="#ff7959"/>
<rect x="286.77" y="1089.91" width="38.02" height="11.95" fill="#f5e1dc"/>
<rect x="324.48" y="1089.91" width="38.02" height="11.95" fill="#8559fc"/>
<rect x="135.90" y="1101.56" width="38.02" height="11.95" fill="#ff8c6f"/>
<rect x="173.62" y="1101.56" width="38.02" height="11.95" fill="#cfb8f5"/>
<rect x="211.33" y="1101.56" width="38.02" height="11.95" fill="#dccef2"/>
<rect x="249.05" y="1101.56" width="38.02" height="11.95" fill="#ff7453"/>
<rect x="286.77" y="1101.56" width="38.02" height="11.95" fill="#e2d8f1"/>
<rect x="324.48" y="1101.56" width="38.02" height="11.95" fill="#8a5efc"/>
<rect x="135.90" y="1113.21" width="38.02" height="11.95" fill="#ff9f85"/>
<rect x="173.62" y="1113.21" width="38.02" height="11.95" fill="#cfb8f5"/>
<rect x="211.33" y="1113.21" width="38.02" height="11.95" fill="#d6c3f4"/>
<rect x="249.05" y="1113.21" width="38.02" height="11.95" fill="#ff6e4e"/>
<rect x="286.77" y="1113.21" width="38.02" height="11.95" fill="#e5def0"/>
<rect x="324.48" y="1113.21" width="38.02" height="11.95" fill="#8a5efc"/>
<rect x="135.90" y="1124.85" width="38.02" height="11.95" fill="#feccbe"/>
<rect x="173.62" y="1124.85" width="38.02" height="11.95" fill="#d6c3f4"/>
<rect x="211.33" y="1124.85" width="38.02" height="11.95" fill="#e2d8f1"/>
<rect x="249.05" y="1124.85" width="38.02" height="11.95" fill="#ff3c20"/>
<rect x="286.77" y="1124.85" width="38.02" height="11.95" fill="#eeeeee"/>
<rect x="324.48" y="1124.85" width="38.02" height="11.95" fill="#8f64fc"/>
<rect x="135.90" y="1136.50" width="38.02" height="11.95" fill="#ff9f85"/>
<rect x="173.62" y="1136.50" width="38.02" height="11.95" fill="#c9aef6"/>
<rect x="211.33" y="1136.50" width="38.02" height="11.95" fill="#e8e3f0"/>
<rect x="249.05" y="1136.50" width="38.02" height="11.95" fill="#ff5e3d"/>
<rect x="286.77" y="1136.50" width="38.02" height="11.95" fill="#d6c3f4"/>
<rect x="324.48" y="1136.50" width="38.02" height="11.95" fill="#8f64fc"/>
<rect x="135.90" y="1148.15" width="38.02" height="11.95" fill="#ffa890"/>
<rect x="173.62" y="1148.15" width="38.02" height="11.95" fill="#cfb8f5"/>
<rect x="211.33" y="1148.15" width="38.02" height="11.95" fill="#ffc7b8"/>
<rect x="249.05" y="1148.15" width="38.02" height="11.95" fill="#ff8c6f"/>
<rect x="286.77" y="1148.15" width="38.02" height="11.95" fill="#ebe9ef"/>
<rect x="324.48" y="1148.15" width="38.02" height="11.95" fill="#4d29fe"/>
<rect x="135.90" y="1159.80" width="38.02" height="11.95" fill="#ffb19c"/>
<rect x="173.62" y="1159.80" width="38.02" height="11.95" fill="#cfb8f5"/>
<rect x="211.33" y="1159.80" width="38.02" height="11.95" fill="#ffc7b8"/>
<rect x="249.05" y="1159.80" width="38.02" height="11.95" fill="#ff8c6f"/>
<rect x="286.77" y="1159.80" width="38.02" height="11.95" fill="#eeeeee"/>
<rect x="324.48" y="1159.80" width="38.02" height="11.95" fill="#4322fe"/>
<rect x="135.90" y="1171.44" width="38.02" height="11.95" fill="#ffbaa7"/>
<rect x="173.62" y="1171.44" width="38.02" height="11.95" fill="#d6c3f4"/>
<rect x="211.33" y="1171.44" width="38.02" height="11.95" fill="#feccbe"/>
<rect x="249.05" y="1171.44" width="38.02" height="11.95" fill="#ff7e5e"/>
<rect x="286.77" y="1171.44" width="38.02" height="11.95" fill="#e8e3f0"/>
<rect x="324.48" y="1171.44" width="38.02" height="11.95" fill="#5f36fe"/>
<rect x="135.90" y="1183.09" width="38.02" height="11.95" fill="#ff9b7f"/>
<rect x="173.62" y="1183.09" width="38.02" height="11.95" fill="#e2d8f1"/>
<rect x="211.33" y="1183.09" width="38.02" height="11.95" fill="#fbd4ca"/>
<rect x="249.05" y="1183.09" width="38.02" height="11.95" fill="#ff8364"/>
<rect x="286.77" y="1183.09" width="38.02" height="11.95" fill="#dccef2"/>
<rect x="324.48" y="1183.09" width="38.02" height="11.95" fill="#7a4efd"/>
<rect x="135.90" y="1194.74" width="38.02" height="11.95" fill="#ff967a"/>
<rect x="173.62" y="1194.74" width="38.02" height="11.95" fill="#dccef2"/>
<rect x="211.33" y="1194.74" width="38.02" height="11.95" fill="#f9d9d0"/>
<rect x="249.05" y="1194.74" width="38.02" height="11.95" fill="#ff8364"/>
<rect x="286.77" y="1194.74" width="38.02" height="11.95" fill="#d9c8f3"/>
<rect x="324.48" y="1194.74" width="38.02" height="11.95" fill="#7a4efd"/>
<rect x="135.90" y="1206.39" width="38.02" height="11.95" fill="#ff9f85"/>
<rect x="173.62" y="1206.39" width="38.02" height="11.95" fill="#c9aef6"/>
<rect x="211.33" y="1206.39" width="38.02" height="11.95" fill="#fbd4ca"/>
<rect x="249.05" y="1206.39" width="38.02" height="11.95" fill="#ff8364"/>
<rect x="286.77" y="1206.39" width="38.02" height="11.95" fill="#e2d8f1"/>
<rect x="324.48" y="1206.39" width="38.02" height="11.95" fill="#7a4efd"/>
<rect x="135.90" y="1218.03" width="38.02" height="11.95" fill="#f5e1dc"/>
<rect x="173.62" y="1218.03" width="38.02" height="11.95" fill="#ff9f85"/>
<rect x="211.33" y="1218.03" width="38.02" height="11.95" fill="#dccef2"/>
<rect x="249.05" y="1218.03" width="38.02" height="11.95" fill="#ff7453"/>
<rect x="286.77" y="1218.03" width="38.02" height="11.95" fill="#b38ef9"/>
<rect x="324.48" y="1218.03" width="38.02" height="11.95" fill="#996efb"/>
<rect x="135.90" y="1229.68" width="38.02" height="11.95" fill="#c9aef6"/>
<rect x="173.62" y="1229.68" width="38.02" height="11.95" fill="#e8e3f0"/>
<rect x="211.33" y="1229.68" width="38.02" height="11.95" fill="#ba99f8"/>
<rect x="249.05" y="1229.68" width="38.02" height="11.95" fill="#ff0000"/>
<rect x="286.77" y="1229.68" width="38.02" height="11.95" fill="#e2d8f1"/>
<rect x="324.48" y="1229.68" width="38.02" height="11.95" fill="#dccef2"/>
<rect x="135.90" y="1241.33" width="38.02" height="11.95" fill="#eeeeee"/>
<rect x="173.62" y="1241.33" width="38.02" height="11.95" fill="#dccef2"/>
<rect x="211.33" y="1241.33" width="38.02" height="11.95" fill="#b38ef9"/>
<rect x="249.05" y="1241.33" width="38.02" height="11.95" fill="#ff0000"/>
<rect x="286.77" y="1241.33" width="38.02" height="11.95" fill="#e2d8f1"/>
<rect x="324.48" y="1241.33" width="38.02" height="11.95" fill="#d9c8f3"/>
<rect x="135.90" y="1252.97" width="38.02" height="11.95" fill="#dfd3f2"/>
<rect x="173.62" y="1252.97" width="38.02" height="11.95" fill="#e2d8f1"/>
<rect x="211.33" y="1252.97" width="38.02" height="11.95" fill="#b38ef9"/>
<rect x="249.05" y="1252.97" width="38.02" height="11.95" fill="#ff3319"/>
<rect x="286.77" y="1252.97" width="38.02" height="11.95" fill="#fdd0c4"/>
<rect x="324.48" y="1252.97" width="38.02" height="11.95" fill="#c2a3f7"/>
<rect x="135.90" y="1264.62" width="38.02" height="11.95" fill="#e2d8f1"/>
<rect x="173.62" y="1264.62" width="38.02" height="11.95" fill="#feccbe"/>
<rect x="211.33" y="1264.62" width="38.02" height="11.95" fill="#a279fa"/>
<rect x="249.05" y="1264.62" width="38.02" height="11.95" fill="#ff5837"/>
<rect x="286.77" y="1264.62" width="38.02" height="11.95" fill="#b38ef9"/>
<rect x="324.48" y="1264.62" width="38.02" height="11.95" fill="#f9d9d0"/>
<rect x="135.90" y="1276.27" width="38.02" height="11.95" fill="#ffb19c"/>
<rect x="173.62" y="1276.27" width="38.02" height="11.95" fill="#d9c8f3"/>
<rect x="211.33" y="1276.27" width="38.02" height="11.95" fill="#eeeeee"/>
<rect x="249.05" y="1276.27" width="38.02" height="11.95" fill="#ff8364"/>
<rect x="286.77" y="1276.27" width="38.02" height="11.95" fill="#5630fe"/>
<rect x="324.48" y="1276.27" width="38.02" height="11.95" fill="#f9d9d0"/>
<rect x="135.90" y="1287.92" width="38.02" height="11.95" fill="#ffbead"/>
<rect x="173.62" y="1287.92" width="38.02" height="11.95" fill="#fdd0c4"/>
<rect x="211.33" y="1287.92" width="38.02" height="11.95" fill="#dccef2"/>
<rect x="249.05" y="1287.92" width="38.02" height="11.95" fill="#ffa890"/>
<rect x="286.77" y="1287.92" width="38.02" height="11.95" fill="#0000ff"/>
<rect x="324.48" y="1287.92" width="38.02" height="11.95" fill="#feccbe"/>
<rect x="135.90" y="1299.56" width="38.02" height="11.95" fill="#ffbead"/>
<rect x="173.62" y="1299.56" width="38.02" height="11.95" fill="#fbd4ca"/>
<rect x="211.33" y="1299.56" width="38.02" height="11.95" fill="#e5def0"/>
<rect x="249.05" y="1299.56" width="38.02" height="11.95" fill="#ffad96"/>
<rect x="286.77" y="1299.56" width="38.02" height="11.95" fill="#0000ff"/>
<rect x="324.48" y="1299.56" width="38.02" height="11.95" fill="#ffc3b3"/>
<rect x="135.90" y="1311.21" width="38.02" height="11.95" fill="#ff8c6f"/>
<rect x="173.62" y="1311.21" width="38.02" height="11.95" fill="#ccb3f5"/>
<rect x="211.33" y="1311.21" width="38.02" height="11.95" fill="#cfb8f5"/>
<rect x="249.05" y="1311.21" width="38.02" height="11.95" fill="#ffad96"/>
<rect x="286.77" y="1311.21" width="38.02" height="11.95" fill="#7a4efd"/>
<rect x="324.48" y="1311.21" width="38.02" height="11.95" fill="#ffc3b3"/>
<rect x="135.90" y="1322.86" width="38.02" height="11.95" fill="#ffa890"/>
<rect x="173.62" y="1322.86" width="38.02" height="11.95" fill="#f1eae8"/>
<rect x="211.33" y="1322.86" width="38.02" height="11.95" fill="#ba99f8"/>
<rect x="249.05" y="1322.86" width="38.02" height="11.95" fill="#ffc7b8"/>
<rect x="286.77" y="1322.86" width="38.02" height="11.95" fill="#7a4efd"/>
<rect x="324.48" y="1322.86" width="38.02" height="11.95" fill="#ff967a"/>
<rect x="135.90" y="1334.51" width="38.02" height="11.95" fill="#ff6948"/>
<rect x="173.62" y="1334.51" width="38.02" height="11.95" fill="#e8e3f0"/>
<rect x="211.33" y="1334.51" width="38.02" height="11.95" fill="#d9c8f3"/>
<rect x="249.05" y="1334.51" width="38.02" height="11.95" fill="#e8e3f0"/>
<rect x="286.77" y="1334.51" width="38.02" height="11.95" fill="#663cfe"/>
<rect x="324.48" y="1334.51" width="38.02" height="11.95" fill="#ffbaa7"/>
<rect x="135.90" y="1346.15" width="38.02" height="11.95" fill="#ff6948"/>
<rect x="173.62" y="1346.15" width="38.02" height="11.95" fill="#e8e3f0"/>
<rect x="211.33" y="1346.15" width="38.02" height="11.95" fill="#c9aef6"/>
<rect x="249.05" y="1346.15" width="38.02" height="11.95" fill="#ffc7b8"/>
<rect x="286.77" y="1346.15" width="38.02" height="11.95" fill="#6d42fd"/>
<rect x="324.48" y="1346.15" width="38.02" height="11.95" fill="#fdd0c4"/>
<rect x="135.90" y="1357.80" width="38.02" height="11.95" fill="#ff6948"/>
<rect x="173.62" y="1357.80" width="38.02" height="11.95" fill="#ebe9ef"/>
<rect x="211.33" y="1357.80" width="38.02" height="11.95" fill="#c9aef6"/>
<rect x="249.05" y="1357.80" width="38.02" height="11.95" fill="#fdd0c4"/>
<rect x="286.77" y="1357.80" width="38.02" height="11.95" fill="#6d42fd"/>
<rect x="324.48" y="1357.80" width="38.02" height="11.95" fill="#ffc7b8"/>
<rect x="135.90" y="1369.45" width="38.02" height="11.95" fill="#ffc7b8"/>
<rect x="173.62" y="1369.45" width="38.02" height="11.95" fill="#d3bef4"/>
<rect x="211.33" y="1369.45" width="38.02" height="11.95" fill="#ba99f8"/>
<rect x="249.05" y="1369.45" width="38.02" height="11.95" fill="#ff7959"/>
<rect x="286.77" y="1369.45" width="38.02" height="11.95" fill="#8f64fc"/>
<rect x="324.48" y="1369.45" width="38.02" height="11.95" fill="#ffad96"/>
<rect x="135.90" y="1381.09" width="38.02" height="11.95" fill="#ffc7b8"/>
<rect x="173.62" y="1381.09" width="38.02" height="11.95" fill="#ccb3f5"/>
<rect x="211.33" y="1381.09" width="38.02" height="11.95" fill="#ba99f8"/>
<rect x="249.05" y="1381.09" width="38.02" height="11.95" fill="#ff9f85"/>
<rect x="286.77" y="1381.09" width="38.02" height="11.95" fill="#a279fa"/>
<rect x="324.48" y="1381.09" width="38.02" height="11.95" fill="#ff6343"/>
<rect x="135.90" y="1392.74" width="38.02" height="11.95" fill="#ff6e4e"/>
<rect x="173.62" y="1392.74" width="38.02" height="11.95" fill="#f1eae8"/>
<rect x="211.33" y="1392.74" width="38.02" height="11.95" fill="#c2a3f7"/>
<rect x="249.05" y="1392.74" width="38.02" height="11.95" fill="#ff967a"/>
<rect x="286.77" y="1392.74" width="38.02" height="11.95" fill="#996efb"/>
<rect x="324.48" y="1392.74" width="38.02" height="11.95" fill="#ccb3f5"/>
<rect x="135.90" y="1404.39" width="38.02" height="11.95" fill="#ff8869"/>
<rect x="173.62" y="1404.39" width="38.02" height="11.95" fill="#fdd0c4"/>
<rect x="211.33" y="1404.39" width="38.02" height="11.95" fill="#e5def0"/>
<rect x="249.05" y="1404.39" width="38.02" height="11.95" fill="#ff9b7f"/>
<rect x="286.77" y="1404.39" width="38.02" height="11.95" fill="#6d42fd"/>
<rect x="324.48" y="1404.39" width="38.02" height="11.95" fill="#dccef2"/>
<rect x="135.90" y="1416.04" width="38.02" height="11.95" fill="#ff6948"/>
<rect x="173.62" y="1416.04" width="38.02" height="11.95" fill="#f7ddd6"/>
<rect x="211.33" y="1416.04" width="38.02" height="11.95" fill="#feccbe"/>
<rect x="249.05" y="1416.04" width="38.02" height="11.95" fill="#f9d9d0"/>
<rect x="286.77" y="1416.04" width="38.02" height="11.95" fill="#5630fe"/>
<rect x="324.48" y="1416.04" width="38.02" height="11.95" fill="#dccef2"/>
<rect x="135.90" y="1427.68" width="38.02" height="11.95" fill="#ff5132"/>
<rect x="173.62" y="1427.68" width="38.02" height="11.95" fill="#e5def0"/>
<rect x="211.33" y="1427.68" width="38.02" height="11.95" fill="#e2d8f1"/>
<rect x="249.05" y="1427.68" width="38.02" height="11.95" fill="#ffc3b3"/>
<rect x="286.77" y="1427.68" width="38.02" height="11.95" fill="#8559fc"/>
<rect x="324.48" y="1427.68" width="38.02" height="11.95" fill="#d6c3f4"/>
<rect x="135.90" y="1439.33" width="38.02" height="11.95" fill="#ff5e3d"/>
<rect x="173.62" y="1439.33" width="38.02" height="11.95" fill="#e5def0"/>
<rect x="211.33" y="1439.33" width="38.02" height="11.95" fill="#e8e3f0"/>
<rect x="249.05" y="1439.33" width="38.02" height="11.95" fill="#ffbaa7"/>
<rect x="286.77" y="1439.33" width="38.02" height="11.95" fill="#8559fc"/>
<rect x="324.48" y="1439.33" width="38.02" height="11.95" fill="#c9aef6"/>
<rect x="135.90" y="1450.98" width="38.02" height="11.95" fill="#ff4b2c"/>
<rect x="173.62" y="1450.98" width="38.02" height="11.95" fill="#f3e5e2"/>
<rect x="211.33" y="1450.98" width="38.02" height="11.95" fill="#feccbe"/>
<rect x="249.05" y="1450.98" width="38.02" height="11.95" fill="#f3e5e2"/>
<rect x="286.77" y="1450.98" width="38.02" height="11.95" fill="#8f64fc"/>
<rect x="324.48" y="1450.98" width="38.02" height="11.95" fill="#be9ef7"/>
<rect x="135.90" y="1462.63" width="38.02" height="11.95" fill="#ff4b2c"/>
<rect x="173.62" y="1462.63" width="38.02" height="11.95" fill="#e2d8f1"/>
<rect x="211.33" y="1462.63" width="38.02" height="11.95" fill="#fbd4ca"/>
<rect x="249.05" y="1462.63" width="38.02" height="11.95" fill="#f5e1dc"/>
<rect x="286.77" y="1462.63" width="38.02" height="11.95" fill="#996efb"/>
<rect x="324.48" y="1462.63" width="38.02" height="11.95" fill="#c2a3f7"/>
<rect x="135.90" y="1474.27" width="38.02" height="11.95" fill="#ff4326"/>
<rect x="173.62" y="1474.27" width="38.02" height="11.95" fill="#f7ddd6"/>
<rect x="211.33" y="1474.27" width="38.02" height="11.95" fill="#fbd4ca"/>
<rect x="249.05" y="1474.27" width="38.02" height="11.95" fill="#f5e1dc"/>
<rect x="286.77" y="1474.27" width="38.02" height="11.95" fill="#7a4efd"/>
<rect x="324.48" y="1474.27" width="38.02" height="11.95" fill="#c2a3f7"/>
<rect x="135.90" y="1485.92" width="38.02" height="11.95" fill="#ff1a09"/>
<rect x="173.62" y="1485.92" width="38.02" height="11.95" fill="#f5e1dc"/>
<rect x="211.33" y="1485.92" width="38.02" height="11.95" fill="#f7ddd6"/>
<rect x="249.05" y="1485.92" width="38.02" height="11.95" fill="#ba99f8"/>
<rect x="286.77" y="1485.92" width="38.02" height="11.95" fill="#b38ef9"/>
<rect x="324.48" y="1485.92" width="38.02" height="11.95" fill="#b38ef9"/>
<rect x="135.90" y="1497.57" width="38.02" height="11.95" fill="#ff6948"/>
<rect x="173.62" y="1497.57" width="38.02" height="11.95" fill="#f3e5e2"/>
<rect x="211.33" y="1497.57" width="38.02" height="11.95" fill="#ffa890"/>
<rect x="249.05" y="1497.57" width="38.02" height="11.95" fill="#fdd0c4"/>
<rect x="286.77" y="1497.57" width="38.02" height="11.95" fill="#aa83fa"/>
<rect x="324.48" y="1497.57" width="38.02" height="11.95" fill="#996efb"/>
<rect x="135.90" y="1509.21" width="38.02" height="11.95" fill="#ff6948"/>
<rect x="173.62" y="1509.21" width="38.02" height="11.95" fill="#ffc7b8"/>
<rect x="211.33" y="1509.21" width="38.02" height="11.95" fill="#ffa890"/>
<rect x="249.05" y="1509.21" width="38.02" height="11.95" fill="#d3bef4"/>
<rect x="286.77" y="1509.21" width="38.02" height="11.95" fill="#aa83fa"/>
<rect x="324.48" y="1509.21" width="38.02" height="11.95" fill="#a279fa"/>
<rect x="135.90" y="1520.86" width="38.02" height="11.95" fill="#ff5837"/>
<rect x="173.62" y="1520.86" width="38.02" height="11.95" fill="#d6c3f4"/>
<rect x="211.33" y="1520.86" width="38.02" height="11.95" fill="#ffbead"/>
<rect x="249.05" y="1520.86" width="38.02" height="11.95" fill="#f5e1dc"/>
<rect x="286.77" y="1520.86" width="38.02" height="11.95" fill="#d9c8f3"/>
<rect x="324.48" y="1520.86" width="38.02" height="11.95" fill="#7348fd"/>
<rect x="135.90" y="1532.51" width="38.02" height="11.95" fill="#ff5132"/>
<rect x="173.62" y="1532.51" width="38.02" height="11.95" fill="#d6c3f4"/>
<rect x="211.33" y="1532.51" width="38.02" height="11.95" fill="#ffbead"/>
<rect x="249.05" y="1532.51" width="38.02" height="11.95" fill="#feccbe"/>
<rect x="286.77" y="1532.51" width="38.02" height="11.95" fill="#d9c8f3"/>
<rect x="324.48" y="1532.51" width="38.02" height="11.95" fill="#7348fd"/>
<rect x="135.90" y="1544.16" width="38.02" height="11.95" fill="#ff3c20"/>
<rect x="173.62" y="1544.16" width="38.02" height="11.95" fill="#e2d8f1"/>
<rect x="211.33" y="1544.16" width="38.02" height="11.95" fill="#ffc7b8"/>
<rect x="249.05" y="1544.16" width="38.02" height="11.95" fill="#e8e3f0"/>
<rect x="286.77" y="1544.16" width="38.02" height="11.95" fill="#b693f8"/>
<rect x="324.48" y="1544.16" width="38.02" height="11.95" fill="#aa83fa"/>
<rect x="135.90" y="1555.80" width="38.02" height="11.95" fill="#ff3c20"/>
<rect x="173.62" y="1555.80" width="38.02" height="11.95" fill="#e2d8f1"/>
<rect x="211.33" y="1555.80" width="38.02" height="11.95" fill="#ffc7b8"/>
<rect x="249.05" y="1555.80" width="38.02" height="11.95" fill="#e8e3f0"/>
<rect x="286.77" y="1555.80" width="38.02" height="11.95" fill="#ba99f8"/>
<rect x="324.48" y="1555.80" width="38.02" height="11.95" fill="#9d74fb"/>
<rect x="135.90" y="1567.45" width="38.02" height="11.95" fill="#ff3319"/>
<rect x="173.62" y="1567.45" width="38.02" height="11.95" fill="#dccef2"/>
<rect x="211.33" y="1567.45" width="38.02" height="11.95" fill="#f1eae8"/>
<rect x="249.05" y="1567.45" width="38.02" height="11.95" fill="#feccbe"/>
<rect x="286.77" y="1567.45" width="38.02" height="11.95" fill="#b38ef9"/>
<rect x="324.48" y="1567.45" width="38.02" height="11.95" fill="#a67efa"/>
<rect x="135.90" y="1579.10" width="38.02" height="11.95" fill="#ff0000"/>
<rect x="173.62" y="1579.10" width="38.02" height="11.95" fill="#c9aef6"/>
<rect x="211.33" y="1579.10" width="38.02" height="11.95" fill="#e8e3f0"/>
<rect x="249.05" y="1579.10" width="38.02" height="11.95" fill="#ebe9ef"/>
<rect x="286.77" y="1579.10" width="38.02" height="11.95" fill="#d9c8f3"/>
<rect x="324.48" y="1579.10" width="38.02" height="11.95" fill="#aa83fa"/>
<rect x="135.90" y="1590.75" width="38.02" height="11.95" fill="#ff1a09"/>
<rect x="173.62" y="1590.75" width="38.02" height="11.95" fill="#b693f8"/>
<rect x="211.33" y="1590.75" width="38.02" height="11.95" fill="#e8e3f0"/>
<rect x="249.05" y="1590.75" width="38.02" height="11.95" fill="#f5e1dc"/>
<rect x="286.77" y="1590.75" width="38.02" height="11.95" fill="#dccef2"/>
<rect x="324.48" y="1590.75" width="38.02" height="11.95" fill="#b693f8"/>
<rect x="135.90" y="1602.39" width="38.02" height="11.95" fill="#ff2812"/>
<rect x="173.62" y="1602.39" width="38.02" height="11.95" fill="#d3bef4"/>
<rect x="211.33" y="1602.39" width="38.02" height="11.95" fill="#f7ddd6"/>
<rect x="249.05" y="1602.39" width="38.02" height="11.95" fill="#e5def0"/>
<rect x="286.77" y="1602.39" width="38.02" height="11.95" fill="#cfb8f5"/>
<rect x="324.48" y="1602.39" width="38.02" height="11.95" fill="#a279fa"/>
<rect x="135.90" y="1614.04" width="38.02" height="11.95" fill="#ff0000"/>
<rect x="173.62" y="1614.04" width="38.02" height="11.95" fill="#d6c3f4"/>
<rect x="211.33" y="1614.04" width="38.02" height="11.95" fill="#f1eae8"/>
<rect x="249.05" y="1614.04" width="38.02" height="11.95" fill="#e5def0"/>
<rect x="286.77" y="1614.04" width="38.02" height="11.95" fill="#c2a3f7"/>
<rect x="324.48" y="1614.04" width="38.02" height="11.95" fill="#b693f8"/>
<rect x="135.90" y="1625.69" width="38.02" height="11.95" fill="#ff5837"/>
<rect x="173.62" y="1625.69" width="38.02" height="11.95" fill="#d3bef4"/>
<rect x="211.33" y="1625.69" width="38.02" height="11.95" fill="#ffc3b3"/>
<rect x="249.05" y="1625.69" width="38.02" height="11.95" fill="#ffad96"/>
<rect x="286.77" y="1625.69" width="38.02" height="11.95" fill="#aa83fa"/>
<rect x="324.48" y="1625.69" width="38.02" height="11.95" fill="#a279fa"/>
<rect x="135.90" y="1637.33" width="38.02" height="11.95" fill="#ff5132"/>
<rect x="173.62" y="1637.33" width="38.02" height="11.95" fill="#c5a8f6"/>
<rect x="211.33" y="1637.33" width="38.02" height="11.95" fill="#f1eae8"/>
<rect x="249.05" y="1637.33" width="38.02" height="11.95" fill="#ffb19c"/>
<rect x="286.77" y="1637.33" width="38.02" height="11.95" fill="#aa83fa"/>
<rect x="324.48" y="1637.33" width="38.02" height="11.95" fill="#be9ef7"/>
<rect x="135.90" y="1648.98" width="38.02" height="11.95" fill="#ff5132"/>
<rect x="173.62" y="1648.98" width="38.02" height="11.95" fill="#d3bef4"/>
<rect x="211.33" y="1648.98" width="38.02" height="11.95" fill="#f3e5e2"/>
<rect x="249.05" y="1648.98" width="38.02" height="11.95" fill="#ffa48b"/>
<rect x="286.77" y="1648.98" width="38.02" height="11.95" fill="#8a5efc"/>
<rect x="324.48" y="1648.98" width="38.02" height="11.95" fill="#c2a3f7"/>
<rect x="135.90" y="1660.63" width="38.02" height="11.95" fill="#ff5837"/>
<rect x="173.62" y="1660.63" width="38.02" height="11.95" fill="#c9aef6"/>
<rect x="211.33" y="1660.63" width="38.02" height="11.95" fill="#f3e5e2"/>
<rect x="249.05" y="1660.63" width="38.02" height="11.95" fill="#ffa48b"/>
<rect x="286.77" y="1660.63" width="38.02" height="11.95" fill="#8f64fc"/>
<rect x="324.48" y="1660.63" width="38.02" height="11.95" fill="#c2a3f7"/>
<rect x="135.90" y="1672.28" width="38.02" height="11.95" fill="#ff6948"/>
<rect x="173.62" y="1672.28" width="38.02" height="11.95" fill="#aa83fa"/>
<rect x="211.33" y="1672.28" width="38.02" height="11.95" fill="#fbd4ca"/>
<rect x="249.05" y="1672.28" width="38.02" height="11.95" fill="#ffa890"/>
<rect x="286.77" y="1672.28" width="38.02" height="11.95" fill="#cfb8f5"/>
<rect x="324.48" y="1672.28" width="38.02" height="11.95" fill="#aa83fa"/>
<rect x="135.90" y="1683.92" width="38.02" height="11.95" fill="#ff6343"/>
<rect x="173.62" y="1683.92" width="38.02" height="11.95" fill="#d9c8f3"/>
<rect x="211.33" y="1683.92" width="38.02" height="11.95" fill="#fdd0c4"/>
<rect x="249.05" y="1683.92" width="38.02" height="11.95" fill="#ffbaa7"/>
<rect x="286.77" y="1683.92" width="38.02" height="11.95" fill="#d3bef4"/>
<rect x="324.48" y="1683.92" width="38.02" height="11.95" fill="#6d42fd"/>
<rect x="135.90" y="1695.57" width="38.02" height="11.95" fill="#ff6343"/>
<rect x="173.62" y="1695.57" width="38.02" height="11.95" fill="#dfd3f2"/>
<rect x="211.33" y="1695.57" width="38.02" height="11.95" fill="#fbd4ca"/>
<rect x="249.05" y="1695.57" width="38.02" height="11.95" fill="#ff9f85"/>
<rect x="286.77" y="1695.57" width="38.02" height="11.95" fill="#cfb8f5"/>
<rect x="324.48" y="1695.57" width="38.02" height="11.95" fill="#663cfe"/>
<rect x="135.90" y="1707.22" width="38.02" height="11.95" fill="#ff7453"/>
<rect x="173.62" y="1707.22" width="38.02" height="11.95" fill="#eeeeee"/>
<rect x="211.33" y="1707.22" width="38.02" height="11.95" fill="#e5def0"/>
<rect x="249.05" y="1707.22" width="38.02" height="11.95" fill="#ff9f85"/>
<rect x="286.77" y="1707.22" width="38.02" height="11.95" fill="#d9c8f3"/>
<rect x="324.48" y="1707.22" width="38.02" height="11.95" fill="#663cfe"/>
<rect x="135.90" y="1718.87" width="38.02" height="11.95" fill="#ff5132"/>
<rect x="173.62" y="1718.87" width="38.02" height="11.95" fill="#cfb8f5"/>
<rect x="211.33" y="1718.87" width="38.02" height="11.95" fill="#eeeeee"/>
<rect x="249.05" y="1718.87" width="38.02" height="11.95" fill="#ffad96"/>
<rect x="286.77" y="1718.87" width="38.02" height="11.95" fill="#d6c3f4"/>
<rect x="324.48" y="1718.87" width="38.02" height="11.95" fill="#7a4efd"/>
<rect x="135.90" y="1730.51" width="38.02" height="11.95" fill="#ff5132"/>
<rect x="173.62" y="1730.51" width="38.02" height="11.95" fill="#cfb8f5"/>
<rect x="211.33" y="1730.51" width="38.02" height="11.95" fill="#e5def0"/>
<rect x="249.05" y="1730.51" width="38.02" height="11.95" fill="#ffa890"/>
<rect x="286.77" y="1730.51" width="38.02" height="11.95" fill="#d6c3f4"/>
<rect x="324.48" y="1730.51" width="38.02" height="11.95" fill="#7a4efd"/>
<rect x="135.90" y="1742.16" width="38.02" height="11.95" fill="#ff5837"/>
<rect x="173.62" y="1742.16" width="38.02" height="11.95" fill="#cfb8f5"/>
<rect x="211.33" y="1742.16" width="38.02" height="11.95" fill="#e5def0"/>
<rect x="249.05" y="1742.16" width="38.02" height="11.95" fill="#ffa890"/>
<rect x="286.77" y="1742.16" width="38.02" height="11.95" fill="#ccb3f5"/>
<rect x="324.48" y="1742.16" width="38.02" height="11.95" fill="#8a5efc"/>
<rect x="135.90" y="1753.81" width="38.02" height="11.95" fill="#ff8c6f"/>
<rect x="173.62" y="1753.81" width="38.02" height="11.95" fill="#ff8869"/>
<rect x="211.33" y="1753.81" width="38.02" height="11.95" fill="#ffbead"/>
<rect x="249.05" y="1753.81" width="38.02" height="11.95" fill="#aa83fa"/>
<rect x="286.77" y="1753.81" width="38.02" height="11.95" fill="#b38ef9"/>
<rect x="324.48" y="1753.81" width="38.02" height="11.95" fill="#b693f8"/>
<rect x="135.90" y="1765.45" width="38.02" height="11.95" fill="#ffb19c"/>
<rect x="173.62" y="1765.45" width="38.02" height="11.95" fill="#ff8364"/>
<rect x="211.33" y="1765.45" width="38.02" height="11.95" fill="#ff967a"/>
<rect x="249.05" y="1765.45" width="38.02" height="11.95" fill="#c9aef6"/>
<rect x="286.77" y="1765.45" width="38.02" height="11.95" fill="#aa83fa"/>
<rect x="324.48" y="1765.45" width="38.02" height="11.95" fill="#b693f8"/>
<rect x="135.90" y="1777.10" width="38.02" height="11.95" fill="#ff967a"/>
<rect x="173.62" y="1777.10" width="38.02" height="11.95" fill="#ffa890"/>
<rect x="211.33" y="1777.10" width="38.02" height="11.95" fill="#ffc7b8"/>
<rect x="249.05" y="1777.10" width="38.02" height="11.95" fill="#9469fb"/>
<rect x="286.77" y="1777.10" width="38.02" height="11.95" fill="#8a5efc"/>
<rect x="324.48" y="1777.10" width="38.02" height="11.95" fill="#fdd0c4"/>
<rect x="135.90" y="1788.75" width="38.02" height="11.95" fill="#ff967a"/>
<rect x="173.62" y="1788.75" width="38.02" height="11.95" fill="#ff8c6f"/>
<rect x="211.33" y="1788.75" width="38.02" height="11.95" fill="#ffc7b8"/>
<rect x="249.05" y="1788.75" width="38.02" height="11.95" fill="#aa83fa"/>
<rect x="286.77" y="1788.75" width="38.02" height="11.95" fill="#7a4efd"/>
<rect x="324.48" y="1788.75" width="38.02" height="11.95" fill="#e8e3f0"/>
<rect x="135.90" y="1800.40" width="38.02" height="11.95" fill="#ff7e5e"/>
<rect x="173.62" y="1800.40" width="38.02" height="11.95" fill="#ffbaa7"/>
<rect x="211.33" y="1800.40" width="38.02" height="11.95" fill="#ffa890"/>
<rect x="249.05" y="1800.40" width="38.02" height="11.95" fill="#aa83fa"/>
<rect x="286.77" y="1800.40" width="38.02" height="11.95" fill="#7f53fd"/>
<rect x="324.48" y="1800.40" width="38.02" height="11.95" fill="#e5def0"/>
<rect x="135.90" y="1812.04" width="38.02" height="11.95" fill="#ff0000"/>
<rect x="173.62" y="1812.04" width="38.02" height="11.95" fill="#cfb8f5"/>
<rect x="211.33" y="1812.04" width="38.02" height="11.95" fill="#f3e5e2"/>
<rect x="249.05" y="1812.04" width="38.02" height="11.95" fill="#d6c3f4"/>
<rect x="286.77" y="1812.04" width="38.02" height="11.95" fill="#a279fa"/>
<rect x="324.48" y="1812.04" width="38.02" height="11.95" fill="#f1eae8"/>
<rect x="135.90" y="1823.69" width="38.02" height="11.95" fill="#ff3c20"/>
<rect x="173.62" y="1823.69" width="38.02" height="11.95" fill="#ebe9ef"/>
<rect x="211.33" y="1823.69" width="38.02" height="11.95" fill="#fdd0c4"/>
<rect x="249.05" y="1823.69" width="38.02" height="11.95" fill="#ba99f8"/>
<rect x="286.77" y="1823.69" width="38.02" height="11.95" fill="#996efb"/>
<rect x="324.48" y="1823.69" width="38.02" height="11.95" fill="#f3e5e2"/>
<rect x="135.90" y="1835.34" width="38.02" height="11.95" fill="#ff3319"/>
<rect x="173.62" y="1835.34" width="38.02" height="11.95" fill="#eeeeee"/>
<rect x="211.33" y="1835.34" width="38.02" height="11.95" fill="#fdd0c4"/>
<rect x="249.05" y="1835.34" width="38.02" height="11.95" fill="#c2a3f7"/>
<rect x="286.77" y="1835.34" width="38.02" height="11.95" fill="#996efb"/>
<rect x="324.48" y="1835.34" width="38.02" height="11.95" fill="#dccef2"/>
<rect x="135.90" y="1846.99" width="38.02" height="11.95" fill="#ff4326"/>
<rect x="173.62" y="1846.99" width="38.02" height="11.95" fill="#eeeeee"/>
<rect x="211.33" y="1846.99" width="38.02" height="11.95" fill="#f5e1dc"/>
<rect x="249.05" y="1846.99" width="38.02" height="11.95" fill="#dccef2"/>
<rect x="286.77" y="1846.99" width="38.02" height="11.95" fill="#663cfe"/>
<rect x="324.48" y="1846.99" width="38.02" height="11.95" fill="#e8e3f0"/>
<rect x="135.90" y="1858.63" width="38.02" height="11.95" fill="#ff2812"/>
<rect x="173.62" y="1858.63" width="38.02" height="11.95" fill="#eeeeee"/>
<rect x="211.33" y="1858.63" width="38.02" height="11.95" fill="#e5def0"/>
<rect x="249.05" y="1858.63" width="38.02" height="11.95" fill="#dccef2"/>
<rect x="286.77" y="1858.63" width="38.02" height="11.95" fill="#8559fc"/>
<rect x="324.48" y="1858.63" width="38.02" height="11.95" fill="#e2d8f1"/>
<rect x="135.90" y="1870.28" width="38.02" height="11.95" fill="#ff4b2c"/>
<rect x="173.62" y="1870.28" width="38.02" height="11.95" fill="#f1eae8"/>
<rect x="211.33" y="1870.28" width="38.02" height="11.95" fill="#eeeeee"/>
<rect x="249.05" y="1870.28" width="38.02" height="11.95" fill="#ba99f8"/>
<rect x="286.77" y="1870.28" width="38.02" height="11.95" fill="#8f64fc"/>
<rect x="324.48" y="1870.28" width="38.02" height="11.95" fill="#fdd0c4"/>
<rect x="135.90" y="1881.93" width="38.02" height="11.95" fill="#ff4b2c"/>
<rect x="173.62" y="1881.93" width="38.02" height="11.95" fill="#feccbe"/>
<rect x="211.33" y="1881.93" width="38.02" height="11.95" fill="#fbd4ca"/>
<rect x="249.05" y="1881.93" width="38.02" height="11.95" fill="#cfb8f5"/>
<rect x="286.77" y="1881.93" width="38.02" height="11.95" fill="#6d42fd"/>
<rect x="324.48" y="1881.93" width="38.02" height="11.95" fill="#e2d8f1"/>
<rect x="135.90" y="1893.57" width="38.02" height="11.95" fill="#ff4b2c"/>
<rect x="173.62" y="1893.57" width="38.02" height="11.95" fill="#feccbe"/>
<rect x="211.33" y="1893.57" width="38.02" height="11.95" fill="#fbd4ca"/>
<rect x="249.05" y="1893.57" width="38.02" height="11.95" fill="#d3bef4"/>
<rect x="286.77" y="1893.57" width="38.02" height="11.95" fill="#663cfe"/>
<rect x="324.48" y="1893.57" width="38.02" height="11.95" fill="#e8e3f0"/>
<rect x="135.90" y="1905.22" width="38.02" height="11.95" fill="#ff5132"/>
<rect x="173.62" y="1905.22" width="38.02" height="11.95" fill="#f1eae8"/>
<rect x="211.33" y="1905.22" width="38.02" height="11.95" fill="#ffc7b8"/>
<rect x="249.05" y="1905.22" width="38.02" height="11.95" fill="#dfd3f2"/>
<rect x="286.77" y="1905.22" width="38.02" height="11.95" fill="#6d42fd"/>
<rect x="324.48" y="1905.22" width="38.02" height="11.95" fill="#d9c8f3"/>
<rect x="135.90" y="1916.87" width="38.02" height="11.95" fill="#ff5132"/>
<rect x="173.62" y="1916.87" width="38.02" height="11.95" fill="#f1eae8"/>
<rect x="211.33" y="1916.87" width="38.02" height="11.95" fill="#feccbe"/>
<rect x="249.05" y="1916.87" width="38.02" height="11.95" fill="#dccef2"/>
<rect x="286.77" y="1916.87" width="38.02" height="11.95" fill="#7348fd"/>
<rect x="324.48" y="1916.87" width="38.02" height="11.95" fill="#e2d8f1"/>
<rect x="135.90" y="1928.52" width="38.02" height="11.95" fill="#ffc3b3"/>
<rect x="173.62" y="1928.52" width="38.02" height="11.95" fill="#aa83fa"/>
<rect x="211.33" y="1928.52" width="38.02" height="11.95" fill="#ff5837"/>
<rect x="249.05" y="1928.52" width="38.02" height="11.95" fill="#dccef2"/>
<rect x="286.77" y="1928.52" width="38.02" height="11.95" fill="#b38ef9"/>
<rect x="324.48" y="1928.52" width="38.02" height="11.95" fill="#f9d9d0"/>
<rect x="135.90" y="1940.16" width="38.02" height="11.95" fill="#e2d8f1"/>
<rect x="173.62" y="1940.16" width="38.02" height="11.95" fill="#dfd3f2"/>
<rect x="211.33" y="1940.16" width="38.02" height="11.95" fill="#ff967a"/>
<rect x="249.05" y="1940.16" width="38.02" height="11.95" fill="#d3bef4"/>
<rect x="286.77" y="1940.16" width="38.02" height="11.95" fill="#ff5837"/>
<rect x="324.48" y="1940.16" width="38.02" height="11.95" fill="#a279fa"/>
<rect x="135.90" y="1951.81" width="38.02" height="11.95" fill="#cfb8f5"/>
<rect x="173.62" y="1951.81" width="38.02" height="11.95" fill="#feccbe"/>
<rect x="211.33" y="1951.81" width="38.02" height="11.95" fill="#d9c8f3"/>
<rect x="249.05" y="1951.81" width="38.02" height="11.95" fill="#8559fc"/>
<rect x="286.77" y="1951.81" width="38.02" height="11.95" fill="#ff5837"/>
<rect x="324.48" y="1951.81" width="38.02" height="11.95" fill="#feccbe"/>
<rect x="135.90" y="1963.46" width="38.02" height="11.95" fill="#c2a3f7"/>
<rect x="173.62" y="1963.46" width="38.02" height="11.95" fill="#cfb8f5"/>
<rect x="211.33" y="1963.46" width="38.02" height="11.95" fill="#c9aef6"/>
<rect x="249.05" y="1963.46" width="38.02" height="11.95" fill="#ffbaa7"/>
<rect x="286.77" y="1963.46" width="38.02" height="11.95" fill="#ff4b2c"/>
<rect x="324.48" y="1963.46" width="38.02" height="11.95" fill="#dfd3f2"/>
<rect x="135.90" y="1975.11" width="38.02" height="11.95" fill="#c2a3f7"/>
<rect x="173.62" y="1975.11" width="38.02" height="11.95" fill="#e2d8f1"/>
<rect x="211.33" y="1975.11" width="38.02" height="11.95" fill="#c9aef6"/>
<rect x="249.05" y="1975.11" width="38.02" height="11.95" fill="#dccef2"/>
<rect x="286.77" y="1975.11" width="38.02" height="11.95" fill="#ff0000"/>
<rect x="324.48" y="1975.11" width="38.02" height="11.95" fill="#fdd0c4"/>
<rect x="135.90" y="1986.75" width="38.02" height="11.95" fill="#8a5efc"/>
<rect x="173.62" y="1986.75" width="38.02" height="11.95" fill="#ffc3b3"/>
<rect x="211.33" y="1986.75" width="38.02" height="11.95" fill="#cfb8f5"/>
<rect x="249.05" y="1986.75" width="38.02" height="11.95" fill="#feccbe"/>
<rect x="286.77" y="1986.75" width="38.02" height="11.95" fill="#ff5132"/>
<rect x="324.48" y="1986.75" width="38.02" height="11.95" fill="#cfb8f5"/>
</g>
<g font-family="Liberation Sans, sans-serif" font-size="12" fill="#000" stroke="#000" stroke-width="0.3">
<text x="368.2" y="86.72">PKNOX1</text>
<text x="368.2" y="98.37">KLF13</text>
<text x="368.2" y="110.02">HSF1</text>
<text x="368.2" y="121.67">SRF</text>
<text x="368.2" y="133.31">IRF8</text>
<text x="368.2" y="144.96">CREB1</text>
<text x="368.2" y="156.61">IRF5</text>
<text x="368.2" y="168.25">FOS</text>
<text x="368.2" y="179.90">HIVEP1</text>
<text x="368.2" y="191.55">HIVEP2</text>
<text x="368.2" y="203.20">RARA</text>
<text x="368.2" y="214.84">MEF2C</text>
<text x="368.2" y="226.49">ATF4</text>
<text x="368.2" y="238.14">SOX4</text>
<text x="368.2" y="249.79">TCF7</text>
<text x="368.2" y="261.43">BACH2</text>
<text x="368.2" y="273.08">GATA3</text>
<text x="368.2" y="284.73">HOXA10</text>
<text x="368.2" y="296.37">LEF1</text>
<text x="368.2" y="308.02">RUNX2</text>
<text x="368.2" y="319.67">ZEB1</text>
<text x="368.2" y="331.32">HOXA9</text>
<text x="368.2" y="342.96">MYC</text>
<text x="368.2" y="354.61">TFDP1</text>
<text x="368.2" y="366.26">FOXP4</text>
<text x="368.2" y="377.91">NFIC</text>
<text x="368.2" y="389.55">ELK3</text>
<text x="368.2" y="401.20">PPARD</text>
<text x="368.2" y="412.85">ARID3A</text>
<text x="368.2" y="424.49">SPIB</text>
<text x="368.2" y="436.14">TBP</text>
<text x="368.2" y="447.79">FOXO3</text>
<text x="368.2" y="459.44">RREB1</text>
<text x="368.2" y="471.08">STAT1</text>
<text x="368.2" y="482.73">USF2</text>
<text x="368.2" y="494.38">ZBTB7A</text>
<text x="368.2" y="506.03">FOXN3</text>
<text x="368.2" y="517.67">FOXN2</text>
<text x="368.2" y="529.32">HIF1A</text>
<text x="368.2" y="540.97">ZNF770</text>
<text x="368.2" y="552.61">ELK4</text>
<text x="368.2" y="564.26">ZNF217</text>
<text x="368.2" y="575.91">E2F3</text>
<text x="368.2" y="587.56">ATF5</text>
<text x="368.2" y="599.20">JUN</text>
<text x="368.2" y="610.85">SP3</text>
<text x="368.2" y="622.50">BHLHE40</text>
<text x="368.2" y="634.15">NFKB1</text>
<text x="368.2" y="645.79">CEBPB</text>
<text x="368.2" y="657.44">KLF3</text>
<text x="368.2" y="669.09">MAFF</text>
<text x="368.2" y="680.73">DDIT3</text>
<text x="368.2" y="692.38">JUND</text>
<text x="368.2" y="704.03">RELB</text>
<text x="368.2" y="715.68">THRA</text>
<text x="368.2" y="727.32">CEBPD</text>
<text x="368.2" y="738.97">JUNB</text>
<text x="368.2" y="750.62">KLF11</text>
<text x="368.2" y="762.27">NFKB2</text>
<text x="368.2" y="773.91">TRPS1</text>
<text x="368.2" y="785.56">TFCP2</text>
<text x="368.2" y="797.21">IKZF1</text>
<text x="368.2" y="808.85">GTF2B</text>
<text x="368.2" y="820.50">SREBF2</text>
<text x="368.2" y="832.15">PPARA</text>
<text x="368.2" y="843.80">BNC2</text>
<text x="368.2" y="855.44">SP4</text>
<text x="368.2" y="867.09">MAF</text>
<text x="368.2" y="878.74">TBX21</text>
<text x="368.2" y="890.39">MAZ</text>
<text x="368.2" y="902.03">ATF6B</text>
<text x="368.2" y="913.68">NFATC2</text>
<text x="368.2" y="925.33">RFX1</text>
<text x="368.2" y="936.97">RARG</text>
<text x="368.2" y="948.62">ELK1</text>
<text x="368.2" y="960.27">PRDM1</text>
<text x="368.2" y="971.92">BATF</text>
<text x="368.2" y="983.56">ZNF585A</text>
<text x="368.2" y="995.21">THAP1</text>
<text x="368.2" y="1006.86">CREB3</text>
<text x="368.2" y="1018.51">RXRA</text>
<text x="368.2" y="1030.15">STAT5B</text>
<text x="368.2" y="1041.80">ZNF143</text>
<text x="368.2" y="1053.45">RXRB</text>
<text x="368.2" y="1065.09">CEBPG</text>
<text x="368.2" y="1076.74">ATF1</text>
<text x="368.2" y="1088.39">GTF3A</text>
<text x="368.2" y="1100.04">POU2F2</text>
<text x="368.2" y="1111.68">ZNF568</text>
<text x="368.2" y="1123.33">ZNF740</text>
<text x="368.2" y="1134.98">XBP1</text>
<text x="368.2" y="1146.63">FLI1</text>
<text x="368.2" y="1158.27">HOXB2</text>
<text x="368.2" y="1169.92">BRF2</text>
<text x="368.2" y="1181.57">HES6</text>
<text x="368.2" y="1193.21">ZBTB7B</text>
<text x="368.2" y="1204.86">SP2</text>
<text x="368.2" y="1216.51">IRF2</text>
<text x="368.2" y="1228.16">YBX1</text>
<text x="368.2" y="1239.80">CXXC1</text>
<text x="368.2" y="1251.45">TP53</text>
<text x="368.2" y="1263.10">NFYA</text>
<text x="368.2" y="1274.75">STAT5A</text>
<text x="368.2" y="1286.39">DEAF1</text>
<text x="368.2" y="1298.04">MZF1</text>
<text x="368.2" y="1309.69">NR1H3</text>
<text x="368.2" y="1321.33">RELA</text>
<text x="368.2" y="1332.98">E2F4</text>
<text x="368.2" y="1344.63">STAT2</text>
<text x="368.2" y="1356.28">ZNF16</text>
<text x="368.2" y="1367.92">RFX5</text>
<text x="368.2" y="1379.57">IRF7</text>
<text x="368.2" y="1391.22">EOMES</text>
<text x="368.2" y="1402.87">CLOCK</text>
<text x="368.2" y="1414.51">FOXO4</text>
<text x="368.2" y="1426.16">MAX</text>
<text x="368.2" y="1437.81">MEF2A</text>
<text x="368.2" y="1449.45">GABPA</text>
<text x="368.2" y="1461.10">NR3C1</text>
<text x="368.2" y="1472.75">ELF2</text>
<text x="368.2" y="1484.40">IRF1</text>
<text x="368.2" y="1496.04">IRF4</text>
<text x="368.2" y="1507.69">CREM</text>
<text x="368.2" y="1519.34">FOSL2</text>
<text x="368.2" y="1530.99">IRF3</text>
<text x="368.2" y="1542.63">ARNTL</text>
<text x="368.2" y="1554.28">USF1</text>
<text x="368.2" y="1565.93">BACH1</text>
<text x="368.2" y="1577.57">MGA</text>
<text x="368.2" y="1589.22">ZNF148</text>
<text x="368.2" y="1600.87">CTCF</text>
<text x="368.2" y="1612.52">STAT3</text>
<text x="368.2" y="1624.16">NFAT5</text>
<text x="368.2" y="1635.81">ATF6</text>
<text x="368.2" y="1647.46">ZNF718</text>
<text x="368.2" y="1659.11">IRF9</text>
<text x="368.2" y="1670.75">YY1</text>
<text x="368.2" y="1682.40">ZNF226</text>
<text x="368.2" y="1694.05">E4F1</text>
<text x="368.2" y="1705.69">NFIL3</text>
<text x="368.2" y="1717.34">ESRRA</text>
<text x="368.2" y="1728.99">ELF4</text>
<text x="368.2" y="1740.64">MLX</text>
<text x="368.2" y="1752.28">REST</text>
<text x="368.2" y="1763.93">KLF2</text>
<text x="368.2" y="1775.58">NFE2L2</text>
<text x="368.2" y="1787.23">CEBPZ</text>
<text x="368.2" y="1798.87">ETV3</text>
<text x="368.2" y="1810.52">ELF1</text>
<text x="368.2" y="1822.17">TCF12</text>
<text x="368.2" y="1833.81">FOXP1</text>
<text x="368.2" y="1845.46">IKZF2</text>
<text x="368.2" y="1857.11">ETS1</text>
<text x="368.2" y="1868.76">CUX1</text>
<text x="368.2" y="1880.40">FOXJ3</text>
<text x="368.2" y="1892.05">MXD1</text>
<text x="368.2" y="1903.70">REL</text>
<text x="368.2" y="1915.35">ZNF429</text>
<text x="368.2" y="1926.99">ZNF121</text>
<text x="368.2" y="1938.64">NR1H2</text>
<text x="368.2" y="1950.29">TGIF1</text>
<text x="368.2" y="1961.93">KLF6</text>
<text x="368.2" y="1973.58">NFYB</text>
<text x="368.2" y="1985.23">ASCL2</text>
<text x="368.2" y="1996.88">NR1D1</text>
</g>
<g font-family="Liberation Sans, sans-serif" font-size="27" fill="#000" stroke="#000" stroke-width="0.3" text-anchor="end">
<text transform="translate(163.96,2004.20) rotate(-90)" x="0" y="0">NK1B</text>
<text transform="translate(201.67,2004.20) rotate(-90)" x="0" y="0">NKint</text>
<text transform="translate(239.39,2004.20) rotate(-90)" x="0" y="0">NK1A</text>
<text transform="translate(277.11,2004.20) rotate(-90)" x="0" y="0">NK1C</text>
<text transform="translate(314.82,2004.20) rotate(-90)" x="0" y="0">NK3</text>
<text transform="translate(352.54,2004.20) rotate(-90)" x="0" y="0">NK2</text>
</g>
<path d="M192.47 72.80V52.80H230.19V72.80M154.76 72.80V38.70H211.33V52.80M267.91 72.80V43.50H305.62V72.80M183.05 38.70V27.50H286.77V43.50M234.91 27.50V21.90H343.34V72.80" fill="none" stroke="#1a1a1a" stroke-width="1.60" stroke-linecap="square"/>
<rect x="80.6" y="1119.9" width="2.7" height="284.4" fill="#666"/>
<rect x="83.3" y="1119.9" width="1.7" height="173.8" fill="#666"/>
<path d="M133.60 94.07H119.20V105.72H133.60M133.60 82.42H109.90V99.89H119.20M133.60 129.01H121.80V140.66H133.60M121.80 134.84H117.50V152.31H133.60M133.60 117.37H113.30V143.57H117.50M133.60 163.95H127.70V175.60H133.60M133.60 198.90H131.90V210.54H133.60M133.60 187.25H129.40V204.72H131.90M129.40 195.98H126.80V222.19H133.60M127.70 169.78H125.10V209.09H126.80M133.60 233.84H132.00V245.49H133.60M132.00 239.66H130.80V257.13H133.60M133.60 268.78H132.30V280.43H133.60M132.30 274.60H131.20V292.07H133.60M133.60 303.72H132.00V315.37H133.60M131.20 283.34H129.80V309.55H132.00M133.60 327.02H131.90V338.66H133.60M129.80 296.44H128.80V332.84H131.90M130.80 248.40H127.70V314.64H128.80M125.10 189.43H121.80V281.52H127.70M121.80 235.48H115.80V350.31H133.60M133.60 361.96H127.70V373.61H133.60M127.70 367.78H121.80V385.25H133.60M133.60 396.90H131.90V408.55H133.60M131.90 402.72H127.70V420.19H133.60M127.70 411.46H122.60V431.84H133.60M121.80 376.52H119.20V421.65H122.60M115.80 292.89H111.60V399.08H119.20M113.30 130.47H105.70V345.99H111.60M133.60 455.14H128.50V466.78H133.60M128.50 460.96H123.50V478.43H133.60M133.60 443.49H121.80V469.70H123.50M133.60 490.08H131.10V501.73H133.60M133.60 513.37H127.70V525.02H133.60M127.70 519.20H124.30V536.67H133.60M131.10 495.90H119.20V527.93H124.30M121.80 456.59H114.50V511.92H119.20M133.60 548.31H129.40V559.96H133.60M133.60 571.61H130.20V583.26H133.60M133.60 594.90H131.10V606.55H133.60M131.10 600.73H126.00V618.20H133.60M130.20 577.43H123.50V609.46H126.00M129.40 554.14H116.70V593.45H123.50M114.50 484.25H111.60V573.79H116.70M133.60 641.49H131.10V653.14H133.60M131.10 647.32H128.50V664.79H133.60M133.60 629.85H126.80V656.05H128.50M133.60 688.08H131.10V699.73H133.60M131.10 693.91H127.70V711.38H133.60M133.60 676.43H125.10V702.64H127.70M126.80 642.95H120.60V689.54H125.10M133.60 734.67H127.70V746.32H133.60M133.60 757.97H129.40V769.61H133.60M127.70 740.49H125.10V763.79H129.40M133.60 723.02H118.40V752.14H125.10M120.60 666.24H116.70V737.58H118.40M111.60 529.02H104.00V701.91H116.70M105.70 238.23H93.50V615.47H104.00M109.90 91.16H92.10V426.85H93.50M133.60 792.91H130.20V804.55H133.60M133.60 816.20H130.20V827.85H133.60M133.60 839.50H131.90V851.14H133.60M130.20 822.03H128.50V845.32H131.90M130.20 798.73H126.00V833.67H128.50M133.60 862.79H128.50V874.44H133.60M128.50 868.61H127.70V886.09H133.60M126.00 816.20H124.30V877.35H127.70M133.60 781.26H121.80V846.78H124.30M133.60 909.38H130.20V921.03H133.60M133.60 897.73H126.00V915.20H130.20M121.80 814.02H114.50V906.47H126.00M133.60 932.67H126.00V944.32H133.60M133.60 955.97H126.80V967.62H133.60M133.60 979.26H129.40V990.91H133.60M129.40 985.09H125.10V1002.56H133.60M126.80 961.79H118.40V993.82H125.10M126.00 938.50H117.50V977.81H118.40M133.60 1014.21H129.40V1025.85H133.60M133.60 1049.15H131.50V1060.79H133.60M133.60 1037.50H128.50V1054.97H131.50M128.50 1046.24H126.80V1072.44H133.60M129.40 1020.03H125.10V1059.34H126.80M125.10 1039.68H123.50V1084.09H133.60M133.60 1107.38H128.50V1119.03H133.60M133.60 1095.74H125.10V1113.21H128.50M133.60 1130.68H126.00V1142.33H133.60M125.10 1104.47H121.80V1136.50H126.00M133.60 1153.97H131.10V1165.62H133.60M131.10 1159.80H128.50V1177.27H133.60M133.60 1188.91H131.10V1200.56H133.60M131.10 1194.74H127.70V1212.21H133.60M128.50 1168.53H125.10V1203.47H127.70M121.80 1120.49H118.40V1186.00H125.10M123.50 1061.89H115.80V1153.24H118.40M117.50 958.15H106.60V1107.57H115.80M114.50 860.24H105.30V1032.86H106.60M133.60 1247.15H124.80V1258.80H133.60M133.60 1235.50H124.00V1252.97H124.80M124.00 1244.24H114.10V1270.45H133.60M133.60 1223.86H112.80V1257.34H114.10M133.60 1293.74H129.00V1305.39H133.60M133.60 1282.09H122.60V1299.56H129.00M133.60 1317.03H120.90V1328.68H133.60M133.60 1351.98H129.40V1363.62H133.60M133.60 1340.33H123.50V1357.80H129.40M120.90 1322.86H119.60V1349.06H123.50M122.60 1290.83H115.00V1335.96H119.60M133.60 1375.27H124.00V1386.92H133.60M115.00 1313.39H110.40V1381.09H124.00M112.80 1240.60H91.30V1347.24H110.40M105.30 946.55H85.00V1293.92H91.30M133.60 1398.57H123.50V1410.21H133.60M133.60 1433.51H127.70V1445.15H133.60M133.60 1421.86H122.60V1439.33H127.70M133.60 1456.80H128.50V1468.45H133.60M128.50 1462.63H126.00V1480.10H133.60M122.60 1430.60H121.30V1471.36H126.00M123.50 1404.39H114.50V1450.98H121.30M133.60 1503.39H124.30V1515.04H133.60M133.60 1491.74H117.50V1509.21H124.30M133.60 1526.69H129.40V1538.33H133.60M133.60 1549.98H128.50V1561.63H133.60M128.50 1555.80H126.00V1573.27H133.60M129.40 1532.51H121.30V1564.54H126.00M133.60 1584.92H128.50V1596.57H133.60M133.60 1608.22H127.70V1619.86H133.60M128.50 1590.75H125.10V1614.04H127.70M121.30 1548.52H119.20V1602.39H125.10M133.60 1654.81H128.50V1666.45H133.60M133.60 1643.16H127.70V1660.63H128.50M133.60 1631.51H125.10V1651.89H127.70M125.10 1641.70H120.60V1678.10H133.60M133.60 1689.75H128.50V1701.39H133.60M128.50 1695.57H125.10V1713.04H133.60M133.60 1724.69H131.10V1736.34H133.60M131.10 1730.51H129.40V1747.98H133.60M125.10 1704.31H123.50V1739.25H129.40M120.60 1659.90H119.00V1721.78H123.50M119.20 1575.46H112.30V1690.84H119.00M117.50 1500.48H108.20V1633.15H112.30M114.50 1427.68H105.60V1566.81H108.20M133.60 1759.63H125.10V1771.28H133.60M133.60 1782.93H124.30V1794.57H133.60M124.30 1788.75H123.70V1806.22H133.60M125.10 1765.45H115.80V1797.48H123.70M133.60 1829.51H127.70V1841.16H133.60M133.60 1817.87H125.70V1835.34H127.70M133.60 1852.81H126.80V1864.46H133.60M126.80 1858.63H124.00V1876.10H133.60M125.70 1826.60H122.30V1867.37H124.00M133.60 1887.75H131.10V1899.40H133.60M133.60 1911.05H130.20V1922.69H133.60M131.10 1893.57H125.10V1916.87H130.20M122.30 1846.99H119.20V1905.22H125.10M115.80 1781.47H105.30V1876.10H119.20M105.30 1828.79H101.10V1934.34H133.60M105.60 1497.25H95.20V1881.56H101.10M85.00 1120.24H83.30V1689.41H95.20M133.60 1945.99H107.70V1957.63H133.60M133.60 1969.28H119.20V1980.93H133.60M119.20 1975.11H114.10V1992.58H133.60M107.70 1951.81H104.00V1983.84H114.10M83.30 1404.82H81.80V1967.83H104.00M92.10 259.00H80.60V1686.32H81.80" fill="none" stroke="#1a1a1a" stroke-width="1.50" stroke-linecap="square"/>
<text x="440.4" y="983.8" font-family="Liberation Sans, sans-serif" font-weight="bold" font-size="18" fill="#111">Regulon activity</text>
<defs><linearGradient id="lg" x1="0" y1="0" x2="0" y2="1"><stop offset="0.0370" stop-color="#ff0000"/><stop offset="0.0602" stop-color="#ff2812"/><stop offset="0.0834" stop-color="#ff3c20"/><stop offset="0.1066" stop-color="#ff4b2c"/><stop offset="0.1298" stop-color="#ff5837"/><stop offset="0.1530" stop-color="#ff6343"/><stop offset="0.1762" stop-color="#ff6e4e"/><stop offset="0.1994" stop-color="#ff7959"/><stop offset="0.2226" stop-color="#ff8364"/><stop offset="0.2458" stop-color="#ff8c6f"/><stop offset="0.2690" stop-color="#ff967a"/><stop offset="0.2921" stop-color="#ff9f85"/><stop offset="0.3153" stop-color="#ffa890"/><stop offset="0.3385" stop-color="#ffb19c"/><stop offset="0.3617" stop-color="#ffbaa7"/><stop offset="0.3849" stop-color="#ffc3b3"/><stop offset="0.4081" stop-color="#feccbe"/><stop offset="0.4313" stop-color="#fbd4ca"/><stop offset="0.4545" stop-color="#f7ddd6"/><stop offset="0.4777" stop-color="#f3e5e2"/><stop offset="0.5009" stop-color="#eeeeee"/><stop offset="0.5241" stop-color="#e8e3f0"/><stop offset="0.5473" stop-color="#e2d8f1"/><stop offset="0.5705" stop-color="#dccef2"/><stop offset="0.5937" stop-color="#d6c3f4"/><stop offset="0.6169" stop-color="#cfb8f5"/><stop offset="0.6401" stop-color="#c9aef6"/><stop offset="0.6633" stop-color="#c2a3f7"/><stop offset="0.6865" stop-color="#ba99f8"/><stop offset="0.7097" stop-color="#b38ef9"/><stop offset="0.7329" stop-color="#aa83fa"/><stop offset="0.7560" stop-color="#a279fa"/><stop offset="0.7792" stop-color="#996efb"/><stop offset="0.8024" stop-color="#8f64fc"/><stop offset="0.8256" stop-color="#8559fc"/><stop offset="0.8488" stop-color="#7a4efd"/><stop offset="0.8720" stop-color="#6d42fd"/><stop offset="0.8952" stop-color="#5f36fe"/><stop offset="0.9184" stop-color="#4d29fe"/><stop offset="0.9416" stop-color="#3619ff"/><stop offset="0.9648" stop-color="#0000ff"/></linearGradient></defs>
<rect x="439.70" y="993.80" width="22.30" height="110.80" fill="url(#lg)"/>
<path d="M439.70 997.90h4.5M462.00 997.90h-4.5" stroke="#fff" stroke-width="1.3"/>
<text x="466.0" y="1004.10" font-family="Liberation Sans, sans-serif" font-size="16.5" fill="#111">2</text>
<path d="M439.70 1023.60h4.5M462.00 1023.60h-4.5" stroke="#fff" stroke-width="1.3"/>
<text x="466.0" y="1029.80" font-family="Liberation Sans, sans-serif" font-size="16.5" fill="#111">1</text>
<path d="M439.70 1049.30h4.5M462.00 1049.30h-4.5" stroke="#fff" stroke-width="1.3"/>
<text x="466.0" y="1055.50" font-family="Liberation Sans, sans-serif" font-size="16.5" fill="#111">0</text>
<path d="M439.70 1075.00h4.5M462.00 1075.00h-4.5" stroke="#fff" stroke-width="1.3"/>
<text x="466.0" y="1081.20" font-family="Liberation Sans, sans-serif" font-size="16.5" fill="#111">-1</text>
<path d="M439.70 1100.70h4.5M462.00 1100.70h-4.5" stroke="#fff" stroke-width="1.3"/>
<text x="466.0" y="1106.90" font-family="Liberation Sans, sans-serif" font-size="16.5" fill="#111">-2</text>
<text transform="translate(-0.3,23.1) scale(0.9,1)" font-family="Liberation Sans, sans-serif" font-weight="bold" font-size="31.5" fill="#000" stroke="#000" stroke-width="0.15">a</text>
</svg>
</body></html>
